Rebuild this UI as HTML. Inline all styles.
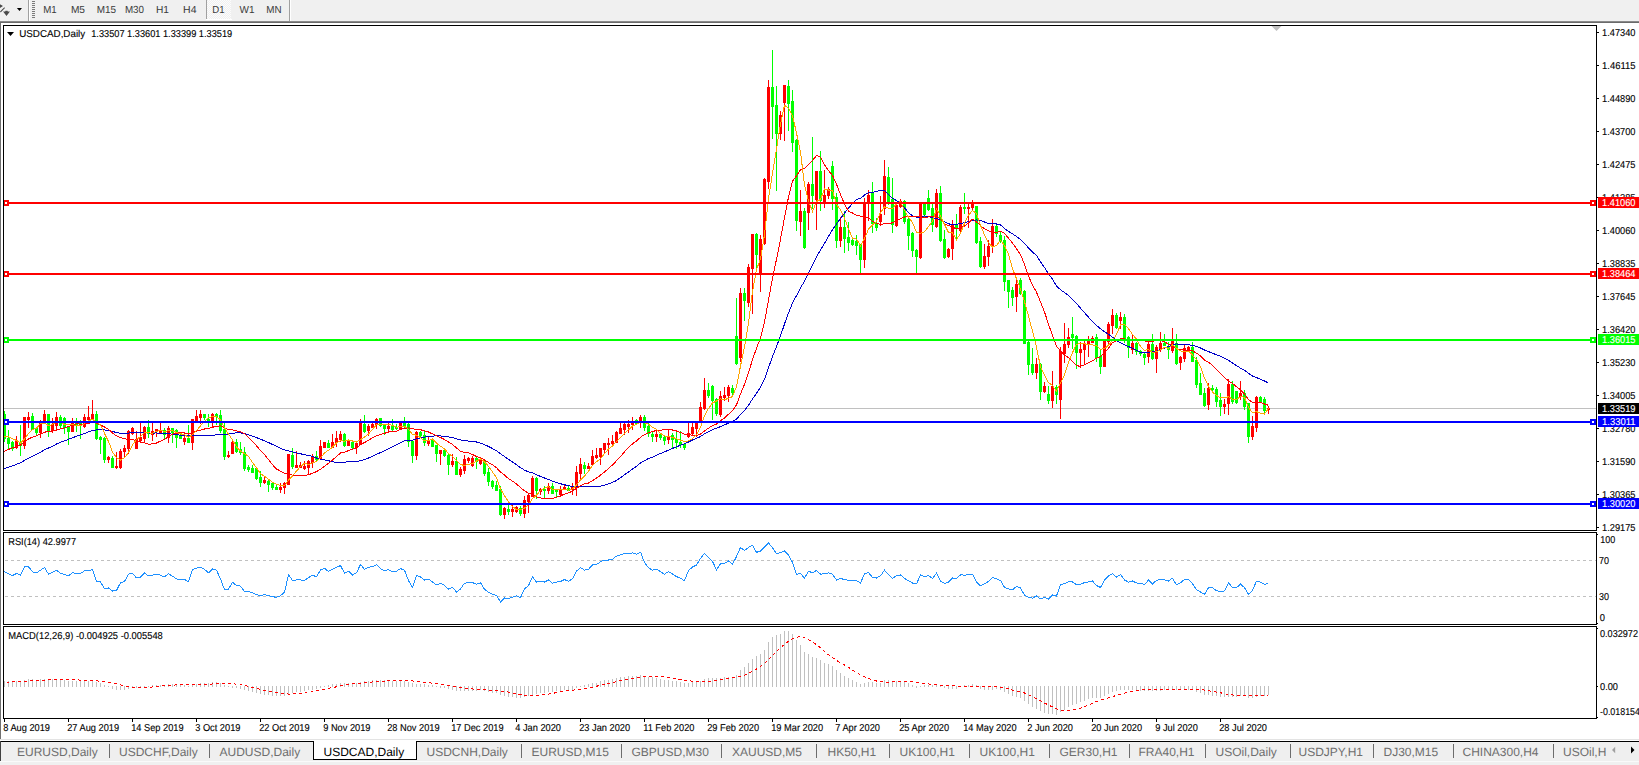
<!DOCTYPE html>
<html><head><meta charset="utf-8"><style>
html,body{margin:0;padding:0;background:#fff;}
body{width:1639px;height:765px;overflow:hidden;}
svg text{font-family:"Liberation Sans",sans-serif;text-rendering:geometricPrecision;}
</style></head><body>
<svg width="1639" height="765" viewBox="0 0 1639 765" style="display:block">
<rect x="0" y="0" width="1639" height="765" fill="#ffffff" />
<rect x="0" y="0" width="1639" height="21" fill="#f0f0f0" />
<rect x="0" y="21" width="1639" height="1" fill="#8a8a8a" />
<rect x="0" y="22" width="1639" height="1" fill="#6a6a6a" />
<rect x="0" y="23" width="1" height="717" fill="#707070" />
<g fill="#4a4a4a" stroke="#ffffff" stroke-width="0.6" paint-order="stroke"><path d="M-1 3.5 L3 6 L-1 8.5 Z"/><path d="M0 11.6 L4.3 7.2 L5 8 L0.7 12.6 Z"/><path d="M3 11.6 L5.3 11.6 L5.3 10.8 L7.7 10.8 L7.7 11.6 L10 11.6 L6.5 16 Z"/></g>
<path d="M16.9 8 L22 8 L19.45 11 Z" fill="#000"/>
<rect x="28" y="0" width="1" height="21" fill="#a0a0a0" />
<rect x="29" y="0" width="1" height="21" fill="#ffffff" />
<rect x="32" y="1" width="3" height="1" fill="#7a7a7a" />
<rect x="32" y="3" width="3" height="1" fill="#7a7a7a" />
<rect x="32" y="5" width="3" height="1" fill="#7a7a7a" />
<rect x="32" y="7" width="3" height="1" fill="#7a7a7a" />
<rect x="32" y="9" width="3" height="1" fill="#7a7a7a" />
<rect x="32" y="11" width="3" height="1" fill="#7a7a7a" />
<rect x="32" y="13" width="3" height="1" fill="#7a7a7a" />
<rect x="32" y="15" width="3" height="1" fill="#7a7a7a" />
<rect x="32" y="17" width="3" height="1" fill="#7a7a7a" />
<defs><pattern id="dith" width="2" height="2" patternUnits="userSpaceOnUse"><rect width="2" height="2" fill="#f0f0f0"/><rect width="1" height="1" fill="#fcfcfc"/><rect x="1" y="1" width="1" height="1" fill="#fcfcfc"/></pattern></defs>
<rect x="206" y="0" width="25" height="19" fill="url(#dith)" />
<rect x="206" y="0" width="1" height="19" fill="#a0a0a0" />
<rect x="206" y="19" width="26" height="1" fill="#ffffff" />
<rect x="289" y="0" width="1" height="21" fill="#a0a0a0" />
<rect x="290" y="0" width="1" height="21" fill="#ffffff" />
<text x="43.2" y="13.2" font-size="10.3" fill="#3a3a3a" textLength="13.50" lengthAdjust="spacingAndGlyphs" >M1</text>
<text x="70.9" y="13.2" font-size="10.3" fill="#3a3a3a" textLength="14.10" lengthAdjust="spacingAndGlyphs" >M5</text>
<text x="96.7" y="13.2" font-size="10.3" fill="#3a3a3a" textLength="19.30" lengthAdjust="spacingAndGlyphs" >M15</text>
<text x="124.9" y="13.2" font-size="10.3" fill="#3a3a3a" textLength="19.10" lengthAdjust="spacingAndGlyphs" >M30</text>
<text x="156.0" y="13.2" font-size="10.3" fill="#3a3a3a" textLength="13.00" lengthAdjust="spacingAndGlyphs" >H1</text>
<text x="183.1" y="13.2" font-size="10.3" fill="#3a3a3a" textLength="13.40" lengthAdjust="spacingAndGlyphs" >H4</text>
<text x="212.3" y="13.2" font-size="10.3" fill="#3a3a3a" textLength="12.30" lengthAdjust="spacingAndGlyphs" >D1</text>
<text x="239.5" y="13.2" font-size="10.3" fill="#3a3a3a" textLength="15.00" lengthAdjust="spacingAndGlyphs" >W1</text>
<text x="266.3" y="13.2" font-size="10.3" fill="#3a3a3a" textLength="15.30" lengthAdjust="spacingAndGlyphs" >MN</text>
<svg x="4" y="26" width="1592" height="504" overflow="hidden"><g transform="translate(-4,-26)" shape-rendering="crispEdges">
<rect x="4" y="408" width="1592" height="1" fill="#c0c0c0" />
<rect x="4" y="411" width="1" height="31" fill="#00ff00" />
<rect x="3" y="414" width="3" height="25" fill="#00ff00" />
<rect x="8" y="430" width="1" height="20" fill="#00ff00" />
<rect x="7" y="438" width="3" height="6" fill="#00ff00" />
<rect x="12" y="441" width="1" height="10" fill="#00ff00" />
<rect x="11" y="442" width="3" height="7" fill="#00ff00" />
<rect x="16" y="436" width="1" height="13" fill="#ff0000" />
<rect x="15" y="441" width="3" height="7" fill="#ff0000" />
<rect x="20" y="425" width="1" height="31" fill="#00ff00" />
<rect x="19" y="442" width="3" height="4" fill="#00ff00" />
<rect x="24" y="417" width="1" height="32" fill="#ff0000" />
<rect x="23" y="417" width="3" height="29" fill="#ff0000" />
<rect x="28" y="412" width="1" height="16" fill="#ff0000" />
<rect x="27" y="417" width="3" height="3" fill="#ff0000" />
<rect x="32" y="413" width="1" height="17" fill="#00ff00" />
<rect x="31" y="416" width="3" height="14" fill="#00ff00" />
<rect x="36" y="427" width="1" height="8" fill="#00ff00" />
<rect x="35" y="428" width="3" height="5" fill="#00ff00" />
<rect x="40" y="420" width="1" height="18" fill="#ff0000" />
<rect x="39" y="423" width="3" height="10" fill="#ff0000" />
<rect x="44" y="410" width="1" height="12" fill="#ff0000" />
<rect x="43" y="414" width="3" height="8" fill="#ff0000" />
<rect x="48" y="414" width="1" height="23" fill="#00ff00" />
<rect x="47" y="414" width="3" height="17" fill="#00ff00" />
<rect x="52" y="418" width="1" height="15" fill="#ff0000" />
<rect x="51" y="424" width="3" height="7" fill="#ff0000" />
<rect x="56" y="412" width="1" height="19" fill="#ff0000" />
<rect x="55" y="417" width="3" height="9" fill="#ff0000" />
<rect x="60" y="415" width="1" height="13" fill="#00ff00" />
<rect x="59" y="417" width="3" height="9" fill="#00ff00" />
<rect x="64" y="417" width="1" height="17" fill="#00ff00" />
<rect x="63" y="418" width="3" height="10" fill="#00ff00" />
<rect x="68" y="426" width="1" height="19" fill="#00ff00" />
<rect x="67" y="426" width="3" height="6" fill="#00ff00" />
<rect x="72" y="418" width="1" height="14" fill="#ff0000" />
<rect x="71" y="422" width="3" height="10" fill="#ff0000" />
<rect x="76" y="418" width="1" height="14" fill="#00ff00" />
<rect x="75" y="423" width="3" height="2" fill="#00ff00" />
<rect x="80" y="420" width="1" height="19" fill="#00ff00" />
<rect x="79" y="423" width="3" height="2" fill="#00ff00" />
<rect x="84" y="414" width="1" height="14" fill="#ff0000" />
<rect x="83" y="417" width="3" height="10" fill="#ff0000" />
<rect x="88" y="406" width="1" height="14" fill="#ff0000" />
<rect x="87" y="417" width="3" height="3" fill="#ff0000" />
<rect x="92" y="400" width="1" height="19" fill="#ff0000" />
<rect x="91" y="414" width="3" height="5" fill="#ff0000" />
<rect x="96" y="411" width="1" height="29" fill="#00ff00" />
<rect x="95" y="414" width="3" height="25" fill="#00ff00" />
<rect x="100" y="436" width="1" height="18" fill="#00ff00" />
<rect x="99" y="437" width="3" height="3" fill="#00ff00" />
<rect x="104" y="437" width="1" height="26" fill="#00ff00" />
<rect x="103" y="438" width="3" height="22" fill="#00ff00" />
<rect x="108" y="456" width="1" height="7" fill="#ff0000" />
<rect x="107" y="457" width="3" height="3" fill="#ff0000" />
<rect x="112" y="456" width="1" height="12" fill="#00ff00" />
<rect x="111" y="458" width="3" height="10" fill="#00ff00" />
<rect x="116" y="452" width="1" height="17" fill="#ff0000" />
<rect x="115" y="466" width="3" height="2" fill="#ff0000" />
<rect x="120" y="449" width="1" height="20" fill="#ff0000" />
<rect x="119" y="451" width="3" height="17" fill="#ff0000" />
<rect x="124" y="445" width="1" height="13" fill="#ff0000" />
<rect x="123" y="448" width="3" height="4" fill="#ff0000" />
<rect x="128" y="430" width="1" height="24" fill="#ff0000" />
<rect x="127" y="431" width="3" height="18" fill="#ff0000" />
<rect x="132" y="427" width="1" height="8" fill="#ff0000" />
<rect x="131" y="428" width="3" height="6" fill="#ff0000" />
<rect x="136" y="431" width="1" height="18" fill="#ff0000" />
<rect x="135" y="439" width="3" height="10" fill="#ff0000" />
<rect x="140" y="423" width="1" height="20" fill="#ff0000" />
<rect x="139" y="437" width="3" height="4" fill="#ff0000" />
<rect x="144" y="426" width="1" height="17" fill="#ff0000" />
<rect x="143" y="427" width="3" height="12" fill="#ff0000" />
<rect x="148" y="420" width="1" height="18" fill="#00ff00" />
<rect x="147" y="427" width="3" height="7" fill="#00ff00" />
<rect x="152" y="423" width="1" height="18" fill="#ff0000" />
<rect x="151" y="431" width="3" height="4" fill="#ff0000" />
<rect x="156" y="429" width="1" height="8" fill="#ff0000" />
<rect x="155" y="429" width="3" height="3" fill="#ff0000" />
<rect x="160" y="423" width="1" height="11" fill="#ff0000" />
<rect x="159" y="431" width="3" height="2" fill="#ff0000" />
<rect x="164" y="428" width="1" height="11" fill="#00ff00" />
<rect x="163" y="430" width="3" height="5" fill="#00ff00" />
<rect x="168" y="426" width="1" height="17" fill="#ff0000" />
<rect x="167" y="428" width="3" height="10" fill="#ff0000" />
<rect x="172" y="428" width="1" height="15" fill="#00ff00" />
<rect x="171" y="428" width="3" height="5" fill="#00ff00" />
<rect x="176" y="429" width="1" height="19" fill="#00ff00" />
<rect x="175" y="430" width="3" height="8" fill="#00ff00" />
<rect x="180" y="433" width="1" height="6" fill="#00ff00" />
<rect x="179" y="436" width="3" height="3" fill="#00ff00" />
<rect x="184" y="436" width="1" height="9" fill="#ff0000" />
<rect x="183" y="438" width="3" height="4" fill="#ff0000" />
<rect x="188" y="425" width="1" height="18" fill="#00ff00" />
<rect x="187" y="438" width="3" height="5" fill="#00ff00" />
<rect x="192" y="419" width="1" height="31" fill="#ff0000" />
<rect x="191" y="419" width="3" height="24" fill="#ff0000" />
<rect x="196" y="410" width="1" height="12" fill="#ff0000" />
<rect x="195" y="416" width="3" height="5" fill="#ff0000" />
<rect x="200" y="410" width="1" height="14" fill="#ff0000" />
<rect x="199" y="414" width="3" height="4" fill="#ff0000" />
<rect x="204" y="414" width="1" height="6" fill="#00ff00" />
<rect x="203" y="414" width="3" height="4" fill="#00ff00" />
<rect x="208" y="414" width="1" height="13" fill="#00ff00" />
<rect x="207" y="419" width="3" height="4" fill="#00ff00" />
<rect x="212" y="413" width="1" height="15" fill="#ff0000" />
<rect x="211" y="414" width="3" height="8" fill="#ff0000" />
<rect x="216" y="413" width="1" height="12" fill="#00ff00" />
<rect x="215" y="414" width="3" height="3" fill="#00ff00" />
<rect x="220" y="410" width="1" height="23" fill="#00ff00" />
<rect x="219" y="415" width="3" height="16" fill="#00ff00" />
<rect x="224" y="423" width="1" height="37" fill="#00ff00" />
<rect x="223" y="429" width="3" height="28" fill="#00ff00" />
<rect x="228" y="451" width="1" height="7" fill="#ff0000" />
<rect x="227" y="455" width="3" height="2" fill="#ff0000" />
<rect x="232" y="441" width="1" height="13" fill="#ff0000" />
<rect x="231" y="442" width="3" height="12" fill="#ff0000" />
<rect x="236" y="439" width="1" height="14" fill="#00ff00" />
<rect x="235" y="442" width="3" height="10" fill="#00ff00" />
<rect x="240" y="442" width="1" height="13" fill="#00ff00" />
<rect x="239" y="449" width="3" height="4" fill="#00ff00" />
<rect x="244" y="447" width="1" height="24" fill="#00ff00" />
<rect x="243" y="452" width="3" height="17" fill="#00ff00" />
<rect x="248" y="465" width="1" height="7" fill="#00ff00" />
<rect x="247" y="467" width="3" height="3" fill="#00ff00" />
<rect x="252" y="465" width="1" height="8" fill="#00ff00" />
<rect x="251" y="468" width="3" height="5" fill="#00ff00" />
<rect x="256" y="467" width="1" height="13" fill="#00ff00" />
<rect x="255" y="468" width="3" height="11" fill="#00ff00" />
<rect x="260" y="471" width="1" height="16" fill="#00ff00" />
<rect x="259" y="477" width="3" height="6" fill="#00ff00" />
<rect x="264" y="476" width="1" height="8" fill="#ff0000" />
<rect x="263" y="480" width="3" height="3" fill="#ff0000" />
<rect x="268" y="479" width="1" height="13" fill="#00ff00" />
<rect x="267" y="481" width="3" height="4" fill="#00ff00" />
<rect x="272" y="482" width="1" height="8" fill="#00ff00" />
<rect x="271" y="483" width="3" height="5" fill="#00ff00" />
<rect x="276" y="485" width="1" height="5" fill="#00ff00" />
<rect x="275" y="487" width="3" height="3" fill="#00ff00" />
<rect x="280" y="483" width="1" height="10" fill="#ff0000" />
<rect x="279" y="487" width="3" height="3" fill="#ff0000" />
<rect x="284" y="482" width="1" height="12" fill="#ff0000" />
<rect x="283" y="483" width="3" height="5" fill="#ff0000" />
<rect x="288" y="454" width="1" height="31" fill="#ff0000" />
<rect x="287" y="454" width="3" height="31" fill="#ff0000" />
<rect x="292" y="448" width="1" height="21" fill="#00ff00" />
<rect x="291" y="455" width="3" height="12" fill="#00ff00" />
<rect x="296" y="451" width="1" height="17" fill="#ff0000" />
<rect x="295" y="465" width="3" height="3" fill="#ff0000" />
<rect x="300" y="462" width="1" height="6" fill="#ff0000" />
<rect x="299" y="465" width="3" height="3" fill="#ff0000" />
<rect x="304" y="461" width="1" height="9" fill="#ff0000" />
<rect x="303" y="466" width="3" height="3" fill="#ff0000" />
<rect x="308" y="460" width="1" height="14" fill="#ff0000" />
<rect x="307" y="461" width="3" height="7" fill="#ff0000" />
<rect x="312" y="454" width="1" height="14" fill="#ff0000" />
<rect x="311" y="457" width="3" height="6" fill="#ff0000" />
<rect x="316" y="451" width="1" height="10" fill="#00ff00" />
<rect x="315" y="456" width="3" height="4" fill="#00ff00" />
<rect x="320" y="440" width="1" height="19" fill="#ff0000" />
<rect x="319" y="446" width="3" height="13" fill="#ff0000" />
<rect x="324" y="442" width="1" height="6" fill="#ff0000" />
<rect x="323" y="442" width="3" height="6" fill="#ff0000" />
<rect x="328" y="440" width="1" height="8" fill="#00ff00" />
<rect x="327" y="443" width="3" height="5" fill="#00ff00" />
<rect x="332" y="434" width="1" height="14" fill="#ff0000" />
<rect x="331" y="442" width="3" height="6" fill="#ff0000" />
<rect x="336" y="431" width="1" height="16" fill="#ff0000" />
<rect x="335" y="438" width="3" height="5" fill="#ff0000" />
<rect x="340" y="431" width="1" height="11" fill="#ff0000" />
<rect x="339" y="434" width="3" height="6" fill="#ff0000" />
<rect x="344" y="433" width="1" height="14" fill="#00ff00" />
<rect x="343" y="434" width="3" height="12" fill="#00ff00" />
<rect x="348" y="441" width="1" height="5" fill="#ff0000" />
<rect x="347" y="441" width="3" height="5" fill="#ff0000" />
<rect x="352" y="440" width="1" height="9" fill="#00ff00" />
<rect x="351" y="442" width="3" height="6" fill="#00ff00" />
<rect x="356" y="442" width="1" height="12" fill="#ff0000" />
<rect x="355" y="443" width="3" height="5" fill="#ff0000" />
<rect x="360" y="419" width="1" height="26" fill="#ff0000" />
<rect x="359" y="423" width="3" height="22" fill="#ff0000" />
<rect x="364" y="415" width="1" height="18" fill="#00ff00" />
<rect x="363" y="424" width="3" height="8" fill="#00ff00" />
<rect x="368" y="424" width="1" height="12" fill="#ff0000" />
<rect x="367" y="426" width="3" height="5" fill="#ff0000" />
<rect x="372" y="423" width="1" height="5" fill="#ff0000" />
<rect x="371" y="424" width="3" height="4" fill="#ff0000" />
<rect x="376" y="418" width="1" height="11" fill="#ff0000" />
<rect x="375" y="419" width="3" height="6" fill="#ff0000" />
<rect x="380" y="418" width="1" height="9" fill="#00ff00" />
<rect x="379" y="418" width="3" height="8" fill="#00ff00" />
<rect x="384" y="424" width="1" height="11" fill="#00ff00" />
<rect x="383" y="424" width="3" height="5" fill="#00ff00" />
<rect x="388" y="423" width="1" height="9" fill="#ff0000" />
<rect x="387" y="426" width="3" height="3" fill="#ff0000" />
<rect x="392" y="419" width="1" height="12" fill="#00ff00" />
<rect x="391" y="425" width="3" height="5" fill="#00ff00" />
<rect x="396" y="424" width="1" height="6" fill="#00ff00" />
<rect x="395" y="427" width="3" height="2" fill="#00ff00" />
<rect x="400" y="422" width="1" height="8" fill="#ff0000" />
<rect x="399" y="423" width="3" height="7" fill="#ff0000" />
<rect x="404" y="417" width="1" height="12" fill="#00ff00" />
<rect x="403" y="422" width="3" height="4" fill="#00ff00" />
<rect x="408" y="423" width="1" height="24" fill="#00ff00" />
<rect x="407" y="424" width="3" height="18" fill="#00ff00" />
<rect x="412" y="441" width="1" height="22" fill="#00ff00" />
<rect x="411" y="441" width="3" height="15" fill="#00ff00" />
<rect x="416" y="431" width="1" height="29" fill="#ff0000" />
<rect x="415" y="432" width="3" height="24" fill="#ff0000" />
<rect x="420" y="431" width="1" height="6" fill="#00ff00" />
<rect x="419" y="432" width="3" height="4" fill="#00ff00" />
<rect x="424" y="431" width="1" height="15" fill="#00ff00" />
<rect x="423" y="435" width="3" height="8" fill="#00ff00" />
<rect x="428" y="437" width="1" height="9" fill="#ff0000" />
<rect x="427" y="440" width="3" height="4" fill="#ff0000" />
<rect x="432" y="439" width="1" height="8" fill="#00ff00" />
<rect x="431" y="440" width="3" height="7" fill="#00ff00" />
<rect x="436" y="445" width="1" height="17" fill="#00ff00" />
<rect x="435" y="445" width="3" height="9" fill="#00ff00" />
<rect x="440" y="450" width="1" height="15" fill="#ff0000" />
<rect x="439" y="450" width="3" height="4" fill="#ff0000" />
<rect x="444" y="450" width="1" height="7" fill="#00ff00" />
<rect x="443" y="450" width="3" height="6" fill="#00ff00" />
<rect x="448" y="454" width="1" height="21" fill="#00ff00" />
<rect x="447" y="455" width="3" height="10" fill="#00ff00" />
<rect x="452" y="454" width="1" height="13" fill="#ff0000" />
<rect x="451" y="461" width="3" height="4" fill="#ff0000" />
<rect x="456" y="457" width="1" height="18" fill="#00ff00" />
<rect x="455" y="461" width="3" height="14" fill="#00ff00" />
<rect x="460" y="467" width="1" height="10" fill="#ff0000" />
<rect x="459" y="469" width="3" height="6" fill="#ff0000" />
<rect x="464" y="455" width="1" height="19" fill="#ff0000" />
<rect x="463" y="459" width="3" height="12" fill="#ff0000" />
<rect x="468" y="457" width="1" height="6" fill="#ff0000" />
<rect x="467" y="458" width="3" height="3" fill="#ff0000" />
<rect x="472" y="456" width="1" height="11" fill="#ff0000" />
<rect x="471" y="458" width="3" height="8" fill="#ff0000" />
<rect x="476" y="457" width="1" height="12" fill="#00ff00" />
<rect x="475" y="458" width="3" height="4" fill="#00ff00" />
<rect x="480" y="459" width="1" height="6" fill="#ff0000" />
<rect x="479" y="459" width="3" height="5" fill="#ff0000" />
<rect x="484" y="460" width="1" height="16" fill="#00ff00" />
<rect x="483" y="461" width="3" height="13" fill="#00ff00" />
<rect x="488" y="468" width="1" height="18" fill="#00ff00" />
<rect x="487" y="472" width="3" height="10" fill="#00ff00" />
<rect x="492" y="480" width="1" height="9" fill="#00ff00" />
<rect x="491" y="481" width="3" height="6" fill="#00ff00" />
<rect x="496" y="481" width="1" height="10" fill="#00ff00" />
<rect x="495" y="485" width="3" height="6" fill="#00ff00" />
<rect x="500" y="486" width="1" height="30" fill="#00ff00" />
<rect x="499" y="489" width="3" height="26" fill="#00ff00" />
<rect x="504" y="507" width="1" height="12" fill="#ff0000" />
<rect x="503" y="508" width="3" height="7" fill="#ff0000" />
<rect x="508" y="503" width="1" height="12" fill="#00ff00" />
<rect x="507" y="509" width="3" height="3" fill="#00ff00" />
<rect x="512" y="505" width="1" height="12" fill="#ff0000" />
<rect x="511" y="509" width="3" height="3" fill="#ff0000" />
<rect x="516" y="506" width="1" height="7" fill="#ff0000" />
<rect x="515" y="507" width="3" height="5" fill="#ff0000" />
<rect x="520" y="506" width="1" height="10" fill="#00ff00" />
<rect x="519" y="508" width="3" height="6" fill="#00ff00" />
<rect x="524" y="496" width="1" height="22" fill="#ff0000" />
<rect x="523" y="500" width="3" height="14" fill="#ff0000" />
<rect x="528" y="493" width="1" height="20" fill="#ff0000" />
<rect x="527" y="495" width="3" height="7" fill="#ff0000" />
<rect x="532" y="476" width="1" height="21" fill="#ff0000" />
<rect x="531" y="478" width="3" height="19" fill="#ff0000" />
<rect x="536" y="477" width="1" height="22" fill="#00ff00" />
<rect x="535" y="478" width="3" height="13" fill="#00ff00" />
<rect x="540" y="488" width="1" height="7" fill="#ff0000" />
<rect x="539" y="489" width="3" height="3" fill="#ff0000" />
<rect x="544" y="486" width="1" height="12" fill="#00ff00" />
<rect x="543" y="489" width="3" height="2" fill="#00ff00" />
<rect x="548" y="483" width="1" height="11" fill="#ff0000" />
<rect x="547" y="486" width="3" height="5" fill="#ff0000" />
<rect x="552" y="483" width="1" height="11" fill="#00ff00" />
<rect x="551" y="486" width="3" height="8" fill="#00ff00" />
<rect x="556" y="489" width="1" height="9" fill="#00ff00" />
<rect x="555" y="489" width="3" height="3" fill="#00ff00" />
<rect x="560" y="486" width="1" height="11" fill="#ff0000" />
<rect x="559" y="490" width="3" height="5" fill="#ff0000" />
<rect x="564" y="484" width="1" height="6" fill="#ff0000" />
<rect x="563" y="487" width="3" height="3" fill="#ff0000" />
<rect x="568" y="486" width="1" height="5" fill="#00ff00" />
<rect x="567" y="488" width="3" height="3" fill="#00ff00" />
<rect x="572" y="483" width="1" height="12" fill="#ff0000" />
<rect x="571" y="486" width="3" height="4" fill="#ff0000" />
<rect x="576" y="466" width="1" height="30" fill="#ff0000" />
<rect x="575" y="472" width="3" height="16" fill="#ff0000" />
<rect x="580" y="458" width="1" height="21" fill="#ff0000" />
<rect x="579" y="464" width="3" height="10" fill="#ff0000" />
<rect x="584" y="462" width="1" height="12" fill="#00ff00" />
<rect x="583" y="465" width="3" height="4" fill="#00ff00" />
<rect x="588" y="463" width="1" height="6" fill="#ff0000" />
<rect x="587" y="466" width="3" height="3" fill="#ff0000" />
<rect x="592" y="450" width="1" height="16" fill="#ff0000" />
<rect x="591" y="456" width="3" height="9" fill="#ff0000" />
<rect x="596" y="448" width="1" height="11" fill="#ff0000" />
<rect x="595" y="455" width="3" height="3" fill="#ff0000" />
<rect x="600" y="448" width="1" height="17" fill="#ff0000" />
<rect x="599" y="448" width="3" height="9" fill="#ff0000" />
<rect x="604" y="443" width="1" height="11" fill="#ff0000" />
<rect x="603" y="443" width="3" height="7" fill="#ff0000" />
<rect x="608" y="438" width="1" height="17" fill="#ff0000" />
<rect x="607" y="443" width="3" height="2" fill="#ff0000" />
<rect x="612" y="435" width="1" height="12" fill="#ff0000" />
<rect x="611" y="441" width="3" height="3" fill="#ff0000" />
<rect x="616" y="431" width="1" height="12" fill="#ff0000" />
<rect x="615" y="432" width="3" height="11" fill="#ff0000" />
<rect x="620" y="423" width="1" height="11" fill="#ff0000" />
<rect x="619" y="428" width="3" height="6" fill="#ff0000" />
<rect x="624" y="423" width="1" height="12" fill="#ff0000" />
<rect x="623" y="424" width="3" height="6" fill="#ff0000" />
<rect x="628" y="420" width="1" height="13" fill="#ff0000" />
<rect x="627" y="424" width="3" height="3" fill="#ff0000" />
<rect x="632" y="417" width="1" height="13" fill="#ff0000" />
<rect x="631" y="422" width="3" height="3" fill="#ff0000" />
<rect x="636" y="419" width="1" height="6" fill="#00ff00" />
<rect x="635" y="420" width="3" height="4" fill="#00ff00" />
<rect x="640" y="415" width="1" height="13" fill="#ff0000" />
<rect x="639" y="417" width="3" height="6" fill="#ff0000" />
<rect x="644" y="415" width="1" height="16" fill="#00ff00" />
<rect x="643" y="417" width="3" height="11" fill="#00ff00" />
<rect x="648" y="423" width="1" height="14" fill="#00ff00" />
<rect x="647" y="426" width="3" height="8" fill="#00ff00" />
<rect x="652" y="432" width="1" height="10" fill="#00ff00" />
<rect x="651" y="434" width="3" height="3" fill="#00ff00" />
<rect x="656" y="430" width="1" height="12" fill="#ff0000" />
<rect x="655" y="434" width="3" height="3" fill="#ff0000" />
<rect x="660" y="433" width="1" height="7" fill="#00ff00" />
<rect x="659" y="434" width="3" height="4" fill="#00ff00" />
<rect x="664" y="436" width="1" height="9" fill="#00ff00" />
<rect x="663" y="437" width="3" height="4" fill="#00ff00" />
<rect x="668" y="429" width="1" height="15" fill="#ff0000" />
<rect x="667" y="436" width="3" height="4" fill="#ff0000" />
<rect x="672" y="433" width="1" height="15" fill="#00ff00" />
<rect x="671" y="435" width="3" height="5" fill="#00ff00" />
<rect x="676" y="432" width="1" height="17" fill="#00ff00" />
<rect x="675" y="439" width="3" height="4" fill="#00ff00" />
<rect x="680" y="431" width="1" height="17" fill="#00ff00" />
<rect x="679" y="442" width="3" height="3" fill="#00ff00" />
<rect x="684" y="443" width="1" height="7" fill="#00ff00" />
<rect x="683" y="444" width="3" height="4" fill="#00ff00" />
<rect x="688" y="423" width="1" height="15" fill="#ff0000" />
<rect x="687" y="433" width="3" height="4" fill="#ff0000" />
<rect x="692" y="423" width="1" height="12" fill="#ff0000" />
<rect x="691" y="427" width="3" height="7" fill="#ff0000" />
<rect x="696" y="423" width="1" height="14" fill="#ff0000" />
<rect x="695" y="423" width="3" height="6" fill="#ff0000" />
<rect x="700" y="402" width="1" height="20" fill="#ff0000" />
<rect x="699" y="407" width="3" height="15" fill="#ff0000" />
<rect x="704" y="378" width="1" height="32" fill="#ff0000" />
<rect x="703" y="390" width="3" height="19" fill="#ff0000" />
<rect x="708" y="383" width="1" height="15" fill="#00ff00" />
<rect x="707" y="390" width="3" height="6" fill="#00ff00" />
<rect x="712" y="385" width="1" height="35" fill="#00ff00" />
<rect x="711" y="386" width="3" height="15" fill="#00ff00" />
<rect x="716" y="398" width="1" height="18" fill="#00ff00" />
<rect x="715" y="399" width="3" height="15" fill="#00ff00" />
<rect x="720" y="391" width="1" height="26" fill="#ff0000" />
<rect x="719" y="396" width="3" height="19" fill="#ff0000" />
<rect x="724" y="387" width="1" height="14" fill="#ff0000" />
<rect x="723" y="395" width="3" height="3" fill="#ff0000" />
<rect x="728" y="385" width="1" height="17" fill="#ff0000" />
<rect x="727" y="387" width="3" height="9" fill="#ff0000" />
<rect x="732" y="385" width="1" height="10" fill="#00ff00" />
<rect x="731" y="388" width="3" height="5" fill="#00ff00" />
<rect x="736" y="298" width="1" height="67" fill="#00ff00" />
<rect x="735" y="336" width="3" height="28" fill="#00ff00" />
<rect x="740" y="288" width="1" height="74" fill="#ff0000" />
<rect x="739" y="293" width="3" height="65" fill="#ff0000" />
<rect x="744" y="288" width="1" height="33" fill="#00ff00" />
<rect x="743" y="293" width="3" height="8" fill="#00ff00" />
<rect x="748" y="264" width="1" height="43" fill="#ff0000" />
<rect x="747" y="267" width="3" height="36" fill="#ff0000" />
<rect x="752" y="234" width="1" height="80" fill="#ff0000" />
<rect x="751" y="234" width="3" height="35" fill="#ff0000" />
<rect x="756" y="233" width="1" height="35" fill="#00ff00" />
<rect x="755" y="234" width="3" height="21" fill="#00ff00" />
<rect x="760" y="235" width="1" height="57" fill="#ff0000" />
<rect x="759" y="239" width="3" height="36" fill="#ff0000" />
<rect x="764" y="178" width="1" height="67" fill="#ff0000" />
<rect x="763" y="179" width="3" height="65" fill="#ff0000" />
<rect x="768" y="80" width="1" height="109" fill="#ff0000" />
<rect x="767" y="87" width="3" height="95" fill="#ff0000" />
<rect x="772" y="50" width="1" height="89" fill="#00ff00" />
<rect x="771" y="87" width="3" height="20" fill="#00ff00" />
<rect x="776" y="86" width="1" height="105" fill="#00ff00" />
<rect x="775" y="105" width="3" height="29" fill="#00ff00" />
<rect x="780" y="111" width="1" height="29" fill="#ff0000" />
<rect x="779" y="115" width="3" height="19" fill="#ff0000" />
<rect x="784" y="85" width="1" height="56" fill="#ff0000" />
<rect x="783" y="85" width="3" height="18" fill="#ff0000" />
<rect x="788" y="80" width="1" height="51" fill="#00ff00" />
<rect x="787" y="86" width="3" height="18" fill="#00ff00" />
<rect x="792" y="90" width="1" height="62" fill="#00ff00" />
<rect x="791" y="101" width="3" height="42" fill="#00ff00" />
<rect x="796" y="139" width="1" height="92" fill="#00ff00" />
<rect x="795" y="140" width="3" height="81" fill="#00ff00" />
<rect x="800" y="190" width="1" height="46" fill="#ff0000" />
<rect x="799" y="211" width="3" height="11" fill="#ff0000" />
<rect x="804" y="208" width="1" height="41" fill="#00ff00" />
<rect x="803" y="211" width="3" height="37" fill="#00ff00" />
<rect x="808" y="182" width="1" height="48" fill="#ff0000" />
<rect x="807" y="184" width="3" height="29" fill="#ff0000" />
<rect x="812" y="137" width="1" height="72" fill="#00ff00" />
<rect x="811" y="184" width="3" height="12" fill="#00ff00" />
<rect x="816" y="171" width="1" height="59" fill="#ff0000" />
<rect x="815" y="171" width="3" height="29" fill="#ff0000" />
<rect x="820" y="151" width="1" height="60" fill="#00ff00" />
<rect x="819" y="171" width="3" height="30" fill="#00ff00" />
<rect x="824" y="170" width="1" height="38" fill="#ff0000" />
<rect x="823" y="195" width="3" height="8" fill="#ff0000" />
<rect x="828" y="187" width="1" height="12" fill="#ff0000" />
<rect x="827" y="189" width="3" height="7" fill="#ff0000" />
<rect x="832" y="161" width="1" height="49" fill="#00ff00" />
<rect x="831" y="166" width="3" height="33" fill="#00ff00" />
<rect x="836" y="193" width="1" height="55" fill="#00ff00" />
<rect x="835" y="197" width="3" height="44" fill="#00ff00" />
<rect x="840" y="217" width="1" height="30" fill="#ff0000" />
<rect x="839" y="227" width="3" height="14" fill="#ff0000" />
<rect x="844" y="211" width="1" height="42" fill="#00ff00" />
<rect x="843" y="227" width="3" height="12" fill="#00ff00" />
<rect x="848" y="222" width="1" height="29" fill="#00ff00" />
<rect x="847" y="237" width="3" height="6" fill="#00ff00" />
<rect x="852" y="238" width="1" height="8" fill="#00ff00" />
<rect x="851" y="240" width="3" height="5" fill="#00ff00" />
<rect x="856" y="235" width="1" height="20" fill="#00ff00" />
<rect x="855" y="241" width="3" height="5" fill="#00ff00" />
<rect x="860" y="244" width="1" height="29" fill="#00ff00" />
<rect x="859" y="245" width="3" height="15" fill="#00ff00" />
<rect x="864" y="198" width="1" height="70" fill="#ff0000" />
<rect x="863" y="203" width="3" height="57" fill="#ff0000" />
<rect x="868" y="190" width="1" height="31" fill="#ff0000" />
<rect x="867" y="195" width="3" height="9" fill="#ff0000" />
<rect x="872" y="182" width="1" height="51" fill="#00ff00" />
<rect x="871" y="193" width="3" height="31" fill="#00ff00" />
<rect x="876" y="218" width="1" height="13" fill="#00ff00" />
<rect x="875" y="223" width="3" height="5" fill="#00ff00" />
<rect x="880" y="196" width="1" height="30" fill="#ff0000" />
<rect x="879" y="214" width="3" height="8" fill="#ff0000" />
<rect x="884" y="160" width="1" height="55" fill="#ff0000" />
<rect x="883" y="176" width="3" height="33" fill="#ff0000" />
<rect x="888" y="167" width="1" height="38" fill="#00ff00" />
<rect x="887" y="177" width="3" height="25" fill="#00ff00" />
<rect x="892" y="178" width="1" height="55" fill="#00ff00" />
<rect x="891" y="199" width="3" height="26" fill="#00ff00" />
<rect x="896" y="204" width="1" height="23" fill="#ff0000" />
<rect x="895" y="205" width="3" height="21" fill="#ff0000" />
<rect x="900" y="199" width="1" height="9" fill="#ff0000" />
<rect x="899" y="201" width="3" height="6" fill="#ff0000" />
<rect x="904" y="200" width="1" height="24" fill="#00ff00" />
<rect x="903" y="201" width="3" height="21" fill="#00ff00" />
<rect x="908" y="218" width="1" height="32" fill="#00ff00" />
<rect x="907" y="219" width="3" height="17" fill="#00ff00" />
<rect x="912" y="232" width="1" height="25" fill="#00ff00" />
<rect x="911" y="233" width="3" height="18" fill="#00ff00" />
<rect x="916" y="249" width="1" height="24" fill="#00ff00" />
<rect x="915" y="250" width="3" height="7" fill="#00ff00" />
<rect x="920" y="203" width="1" height="56" fill="#ff0000" />
<rect x="919" y="204" width="3" height="54" fill="#ff0000" />
<rect x="924" y="204" width="1" height="13" fill="#00ff00" />
<rect x="923" y="204" width="3" height="11" fill="#00ff00" />
<rect x="928" y="190" width="1" height="21" fill="#00ff00" />
<rect x="927" y="198" width="3" height="12" fill="#00ff00" />
<rect x="932" y="204" width="1" height="28" fill="#00ff00" />
<rect x="931" y="208" width="3" height="17" fill="#00ff00" />
<rect x="936" y="189" width="1" height="39" fill="#ff0000" />
<rect x="935" y="193" width="3" height="34" fill="#ff0000" />
<rect x="940" y="186" width="1" height="56" fill="#00ff00" />
<rect x="939" y="193" width="3" height="48" fill="#00ff00" />
<rect x="944" y="230" width="1" height="29" fill="#00ff00" />
<rect x="943" y="239" width="3" height="19" fill="#00ff00" />
<rect x="948" y="248" width="1" height="10" fill="#ff0000" />
<rect x="947" y="249" width="3" height="8" fill="#ff0000" />
<rect x="952" y="220" width="1" height="40" fill="#ff0000" />
<rect x="951" y="225" width="3" height="24" fill="#ff0000" />
<rect x="956" y="214" width="1" height="27" fill="#00ff00" />
<rect x="955" y="225" width="3" height="4" fill="#00ff00" />
<rect x="960" y="205" width="1" height="27" fill="#ff0000" />
<rect x="959" y="207" width="3" height="24" fill="#ff0000" />
<rect x="964" y="193" width="1" height="21" fill="#00ff00" />
<rect x="963" y="207" width="3" height="2" fill="#00ff00" />
<rect x="968" y="203" width="1" height="25" fill="#ff0000" />
<rect x="967" y="207" width="3" height="2" fill="#ff0000" />
<rect x="972" y="200" width="1" height="11" fill="#ff0000" />
<rect x="971" y="203" width="3" height="5" fill="#ff0000" />
<rect x="976" y="206" width="1" height="38" fill="#00ff00" />
<rect x="975" y="206" width="3" height="37" fill="#00ff00" />
<rect x="980" y="237" width="1" height="31" fill="#00ff00" />
<rect x="979" y="241" width="3" height="26" fill="#00ff00" />
<rect x="984" y="244" width="1" height="25" fill="#ff0000" />
<rect x="983" y="256" width="3" height="11" fill="#ff0000" />
<rect x="988" y="240" width="1" height="26" fill="#ff0000" />
<rect x="987" y="246" width="3" height="11" fill="#ff0000" />
<rect x="992" y="219" width="1" height="34" fill="#ff0000" />
<rect x="991" y="226" width="3" height="21" fill="#ff0000" />
<rect x="996" y="224" width="1" height="13" fill="#00ff00" />
<rect x="995" y="226" width="3" height="8" fill="#00ff00" />
<rect x="1000" y="231" width="1" height="12" fill="#00ff00" />
<rect x="999" y="235" width="3" height="7" fill="#00ff00" />
<rect x="1004" y="236" width="1" height="55" fill="#00ff00" />
<rect x="1003" y="240" width="3" height="42" fill="#00ff00" />
<rect x="1008" y="280" width="1" height="28" fill="#00ff00" />
<rect x="1007" y="280" width="3" height="12" fill="#00ff00" />
<rect x="1012" y="287" width="1" height="19" fill="#00ff00" />
<rect x="1011" y="290" width="3" height="8" fill="#00ff00" />
<rect x="1016" y="280" width="1" height="32" fill="#ff0000" />
<rect x="1015" y="284" width="3" height="13" fill="#ff0000" />
<rect x="1020" y="278" width="1" height="17" fill="#00ff00" />
<rect x="1019" y="280" width="3" height="14" fill="#00ff00" />
<rect x="1024" y="290" width="1" height="54" fill="#00ff00" />
<rect x="1023" y="291" width="3" height="53" fill="#00ff00" />
<rect x="1028" y="341" width="1" height="34" fill="#00ff00" />
<rect x="1027" y="342" width="3" height="23" fill="#00ff00" />
<rect x="1032" y="348" width="1" height="27" fill="#00ff00" />
<rect x="1031" y="364" width="3" height="9" fill="#00ff00" />
<rect x="1036" y="358" width="1" height="21" fill="#ff0000" />
<rect x="1035" y="364" width="3" height="9" fill="#ff0000" />
<rect x="1040" y="363" width="1" height="37" fill="#00ff00" />
<rect x="1039" y="364" width="3" height="28" fill="#00ff00" />
<rect x="1044" y="382" width="1" height="11" fill="#ff0000" />
<rect x="1043" y="386" width="3" height="6" fill="#ff0000" />
<rect x="1048" y="386" width="1" height="18" fill="#00ff00" />
<rect x="1047" y="394" width="3" height="7" fill="#00ff00" />
<rect x="1052" y="371" width="1" height="37" fill="#ff0000" />
<rect x="1051" y="386" width="3" height="15" fill="#ff0000" />
<rect x="1056" y="385" width="1" height="19" fill="#00ff00" />
<rect x="1055" y="387" width="3" height="8" fill="#00ff00" />
<rect x="1060" y="347" width="1" height="72" fill="#ff0000" />
<rect x="1059" y="351" width="3" height="49" fill="#ff0000" />
<rect x="1064" y="323" width="1" height="40" fill="#ff0000" />
<rect x="1063" y="344" width="3" height="10" fill="#ff0000" />
<rect x="1068" y="328" width="1" height="20" fill="#ff0000" />
<rect x="1067" y="337" width="3" height="8" fill="#ff0000" />
<rect x="1072" y="317" width="1" height="32" fill="#00ff00" />
<rect x="1071" y="334" width="3" height="4" fill="#00ff00" />
<rect x="1076" y="335" width="1" height="34" fill="#00ff00" />
<rect x="1075" y="336" width="3" height="17" fill="#00ff00" />
<rect x="1080" y="342" width="1" height="26" fill="#ff0000" />
<rect x="1079" y="349" width="3" height="4" fill="#ff0000" />
<rect x="1084" y="341" width="1" height="23" fill="#ff0000" />
<rect x="1083" y="344" width="3" height="6" fill="#ff0000" />
<rect x="1088" y="336" width="1" height="21" fill="#ff0000" />
<rect x="1087" y="341" width="3" height="4" fill="#ff0000" />
<rect x="1092" y="336" width="1" height="7" fill="#ff0000" />
<rect x="1091" y="338" width="3" height="5" fill="#ff0000" />
<rect x="1096" y="334" width="1" height="28" fill="#00ff00" />
<rect x="1095" y="337" width="3" height="21" fill="#00ff00" />
<rect x="1100" y="350" width="1" height="24" fill="#00ff00" />
<rect x="1099" y="356" width="3" height="11" fill="#00ff00" />
<rect x="1104" y="341" width="1" height="26" fill="#ff0000" />
<rect x="1103" y="341" width="3" height="26" fill="#ff0000" />
<rect x="1108" y="322" width="1" height="23" fill="#ff0000" />
<rect x="1107" y="324" width="3" height="18" fill="#ff0000" />
<rect x="1112" y="309" width="1" height="25" fill="#ff0000" />
<rect x="1111" y="315" width="3" height="11" fill="#ff0000" />
<rect x="1116" y="313" width="1" height="16" fill="#00ff00" />
<rect x="1115" y="315" width="3" height="13" fill="#00ff00" />
<rect x="1120" y="312" width="1" height="17" fill="#ff0000" />
<rect x="1119" y="317" width="3" height="4" fill="#ff0000" />
<rect x="1124" y="314" width="1" height="29" fill="#00ff00" />
<rect x="1123" y="317" width="3" height="22" fill="#00ff00" />
<rect x="1128" y="336" width="1" height="22" fill="#00ff00" />
<rect x="1127" y="337" width="3" height="11" fill="#00ff00" />
<rect x="1132" y="335" width="1" height="19" fill="#ff0000" />
<rect x="1131" y="343" width="3" height="7" fill="#ff0000" />
<rect x="1136" y="342" width="1" height="13" fill="#00ff00" />
<rect x="1135" y="343" width="3" height="9" fill="#00ff00" />
<rect x="1140" y="350" width="1" height="6" fill="#00ff00" />
<rect x="1139" y="351" width="3" height="3" fill="#00ff00" />
<rect x="1144" y="352" width="1" height="13" fill="#00ff00" />
<rect x="1143" y="354" width="3" height="4" fill="#00ff00" />
<rect x="1148" y="341" width="1" height="22" fill="#ff0000" />
<rect x="1147" y="344" width="3" height="13" fill="#ff0000" />
<rect x="1152" y="334" width="1" height="26" fill="#00ff00" />
<rect x="1151" y="344" width="3" height="15" fill="#00ff00" />
<rect x="1156" y="345" width="1" height="28" fill="#ff0000" />
<rect x="1155" y="347" width="3" height="12" fill="#ff0000" />
<rect x="1160" y="332" width="1" height="20" fill="#ff0000" />
<rect x="1159" y="343" width="3" height="7" fill="#ff0000" />
<rect x="1164" y="334" width="1" height="12" fill="#00ff00" />
<rect x="1163" y="343" width="3" height="3" fill="#00ff00" />
<rect x="1168" y="342" width="1" height="17" fill="#00ff00" />
<rect x="1167" y="347" width="3" height="3" fill="#00ff00" />
<rect x="1172" y="328" width="1" height="25" fill="#ff0000" />
<rect x="1171" y="341" width="3" height="10" fill="#ff0000" />
<rect x="1176" y="334" width="1" height="31" fill="#00ff00" />
<rect x="1175" y="343" width="3" height="21" fill="#00ff00" />
<rect x="1180" y="356" width="1" height="14" fill="#ff0000" />
<rect x="1179" y="357" width="3" height="6" fill="#ff0000" />
<rect x="1184" y="345" width="1" height="17" fill="#ff0000" />
<rect x="1183" y="348" width="3" height="11" fill="#ff0000" />
<rect x="1188" y="346" width="1" height="6" fill="#ff0000" />
<rect x="1187" y="347" width="3" height="3" fill="#ff0000" />
<rect x="1192" y="342" width="1" height="20" fill="#00ff00" />
<rect x="1191" y="347" width="3" height="15" fill="#00ff00" />
<rect x="1196" y="357" width="1" height="31" fill="#00ff00" />
<rect x="1195" y="360" width="3" height="25" fill="#00ff00" />
<rect x="1200" y="373" width="1" height="22" fill="#00ff00" />
<rect x="1199" y="383" width="3" height="12" fill="#00ff00" />
<rect x="1204" y="388" width="1" height="19" fill="#00ff00" />
<rect x="1203" y="393" width="3" height="13" fill="#00ff00" />
<rect x="1208" y="383" width="1" height="27" fill="#ff0000" />
<rect x="1207" y="388" width="3" height="17" fill="#ff0000" />
<rect x="1212" y="385" width="1" height="8" fill="#00ff00" />
<rect x="1211" y="388" width="3" height="2" fill="#00ff00" />
<rect x="1216" y="387" width="1" height="20" fill="#00ff00" />
<rect x="1215" y="389" width="3" height="13" fill="#00ff00" />
<rect x="1220" y="393" width="1" height="23" fill="#00ff00" />
<rect x="1219" y="400" width="3" height="7" fill="#00ff00" />
<rect x="1224" y="399" width="1" height="15" fill="#ff0000" />
<rect x="1223" y="404" width="3" height="3" fill="#ff0000" />
<rect x="1228" y="379" width="1" height="36" fill="#ff0000" />
<rect x="1227" y="384" width="3" height="20" fill="#ff0000" />
<rect x="1232" y="381" width="1" height="23" fill="#00ff00" />
<rect x="1231" y="384" width="3" height="18" fill="#00ff00" />
<rect x="1236" y="391" width="1" height="13" fill="#00ff00" />
<rect x="1235" y="391" width="3" height="12" fill="#00ff00" />
<rect x="1240" y="381" width="1" height="19" fill="#ff0000" />
<rect x="1239" y="393" width="3" height="4" fill="#ff0000" />
<rect x="1244" y="390" width="1" height="20" fill="#00ff00" />
<rect x="1243" y="393" width="3" height="14" fill="#00ff00" />
<rect x="1248" y="403" width="1" height="40" fill="#00ff00" />
<rect x="1247" y="403" width="3" height="34" fill="#00ff00" />
<rect x="1252" y="416" width="1" height="24" fill="#ff0000" />
<rect x="1251" y="426" width="3" height="11" fill="#ff0000" />
<rect x="1256" y="396" width="1" height="36" fill="#ff0000" />
<rect x="1255" y="397" width="3" height="31" fill="#ff0000" />
<rect x="1260" y="396" width="1" height="7" fill="#00ff00" />
<rect x="1259" y="397" width="3" height="5" fill="#00ff00" />
<rect x="1264" y="397" width="1" height="16" fill="#00ff00" />
<rect x="1263" y="399" width="3" height="12" fill="#00ff00" />
<rect x="1268" y="406" width="1" height="8" fill="#ff0000" />
<rect x="1267" y="408" width="3" height="2" fill="#ff0000" />
<polyline points="0.5,470.36 4.5,468.69 8.5,467.20 12.5,465.86 16.5,464.30 20.5,462.86 24.5,460.48 28.5,458.11 32.5,456.15 36.5,454.31 40.5,452.19 44.5,449.83 48.5,448.05 52.5,446.13 56.5,444.05 60.5,442.31 64.5,440.72 68.5,439.35 72.5,437.76 76.5,436.32 80.5,434.96 84.5,433.43 88.5,431.96 92.5,430.49 96.5,429.94 100.5,429.56 104.5,429.99 108.5,430.50 112.5,431.48 116.5,432.56 120.5,433.20 124.5,433.53 128.5,433.13 132.5,432.47 136.5,432.40 140.5,432.13 144.5,432.47 148.5,433.00 152.5,433.07 156.5,432.97 160.5,433.23 164.5,433.90 168.5,433.83 172.5,434.10 176.5,434.77 180.5,435.20 184.5,435.57 188.5,435.93 192.5,435.83 196.5,435.57 200.5,435.23 204.5,435.23 208.5,435.40 212.5,435.40 216.5,434.67 220.5,434.37 224.5,434.27 228.5,434.20 232.5,433.37 236.5,432.87 240.5,432.90 244.5,433.57 248.5,434.83 252.5,436.30 256.5,437.60 260.5,439.10 264.5,440.87 268.5,442.57 272.5,444.43 276.5,446.43 280.5,448.30 284.5,449.93 288.5,450.80 292.5,451.93 296.5,452.87 300.5,453.77 304.5,454.70 308.5,455.33 312.5,456.60 316.5,458.03 320.5,459.10 324.5,459.93 328.5,460.77 332.5,461.70 336.5,462.43 340.5,462.57 344.5,462.20 348.5,461.73 352.5,461.90 356.5,461.63 360.5,460.67 364.5,459.43 368.5,458.00 372.5,456.40 376.5,454.43 380.5,452.53 384.5,450.80 388.5,448.87 392.5,446.93 396.5,444.90 400.5,442.77 404.5,440.83 408.5,440.40 412.5,440.03 416.5,438.93 420.5,437.93 424.5,437.13 428.5,436.43 432.5,436.07 436.5,435.87 440.5,436.00 444.5,436.43 448.5,437.00 452.5,437.63 456.5,438.83 460.5,440.00 464.5,440.47 468.5,441.03 472.5,441.40 476.5,442.00 480.5,443.20 484.5,444.60 488.5,446.43 492.5,448.50 496.5,450.87 500.5,453.83 504.5,456.50 508.5,459.33 512.5,462.00 516.5,464.63 520.5,467.63 524.5,470.13 528.5,471.93 532.5,472.70 536.5,474.63 540.5,476.43 544.5,478.03 548.5,479.57 552.5,481.13 556.5,482.40 560.5,483.73 564.5,484.80 568.5,485.67 572.5,486.50 576.5,486.43 580.5,486.27 584.5,486.57 588.5,486.83 592.5,486.77 596.5,486.57 600.5,486.20 604.5,485.20 608.5,483.93 612.5,482.43 616.5,480.50 620.5,477.63 624.5,474.83 628.5,471.93 632.5,469.03 636.5,466.23 640.5,463.03 644.5,460.60 648.5,458.53 652.5,457.13 656.5,455.27 660.5,453.53 664.5,451.87 668.5,450.20 672.5,448.40 676.5,446.77 680.5,445.23 684.5,443.90 688.5,442.00 692.5,440.03 696.5,438.40 700.5,436.50 704.5,433.90 708.5,431.53 712.5,429.67 716.5,428.27 720.5,426.53 724.5,424.93 728.5,423.07 732.5,421.43 736.5,419.13 740.5,414.63 744.5,410.50 748.5,405.27 752.5,399.00 756.5,393.37 760.5,387.43 764.5,379.17 768.5,367.63 772.5,356.63 776.5,346.60 780.5,335.87 784.5,324.03 788.5,312.93 792.5,303.03 796.5,295.63 800.5,287.87 804.5,281.20 808.5,272.90 812.5,265.17 816.5,256.77 820.5,249.87 824.5,243.37 828.5,236.50 832.5,229.77 836.5,224.00 840.5,218.37 844.5,213.13 848.5,208.30 852.5,203.37 856.5,199.43 860.5,198.30 864.5,195.07 868.5,192.67 872.5,192.30 876.5,191.40 880.5,190.57 884.5,190.47 888.5,194.27 892.5,198.20 896.5,200.60 900.5,203.47 904.5,208.00 908.5,212.40 912.5,216.00 916.5,217.20 920.5,216.97 924.5,215.87 928.5,216.70 932.5,217.67 936.5,218.40 940.5,219.73 944.5,221.80 948.5,223.80 952.5,224.70 956.5,224.30 960.5,223.63 964.5,222.63 968.5,221.47 972.5,220.10 976.5,220.00 980.5,220.23 984.5,222.00 988.5,223.70 992.5,223.80 996.5,224.00 1000.5,224.90 1004.5,228.40 1008.5,231.40 1012.5,233.83 1016.5,236.47 1020.5,239.53 1024.5,243.60 1028.5,247.90 1032.5,251.97 1036.5,255.57 1040.5,261.80 1044.5,267.53 1048.5,273.90 1052.5,279.30 1056.5,286.00 1060.5,289.70 1064.5,292.60 1068.5,295.53 1072.5,299.27 1076.5,303.40 1080.5,308.13 1084.5,312.67 1088.5,317.13 1092.5,321.63 1096.5,325.47 1100.5,328.80 1104.5,331.63 1108.5,334.23 1112.5,337.20 1116.5,340.33 1120.5,342.87 1124.5,344.77 1128.5,346.63 1132.5,348.17 1136.5,350.40 1140.5,352.40 1144.5,352.87 1148.5,352.20 1152.5,351.73 1156.5,351.17 1160.5,349.57 1164.5,348.20 1168.5,346.50 1172.5,345.00 1176.5,343.97 1180.5,344.17 1184.5,344.30 1188.5,344.63 1192.5,345.43 1196.5,346.50 1200.5,348.00 1204.5,350.03 1208.5,351.60 1212.5,353.30 1216.5,354.77 1220.5,356.10 1224.5,358.20 1228.5,360.20 1232.5,363.07 1236.5,365.57 1240.5,368.10 1244.5,370.37 1248.5,373.33 1252.5,376.10 1256.5,377.63 1260.5,379.23 1264.5,381.00 1268.5,383.13" fill="none" stroke="#0000c8" stroke-width="1"/>
<polyline points="0.5,453.69 4.5,451.25 8.5,449.35 12.5,447.98 16.5,446.27 20.5,444.99 24.5,441.85 28.5,438.91 32.5,437.09 36.5,435.78 40.5,434.12 44.5,432.13 48.5,431.61 52.5,430.92 56.5,429.86 60.5,428.93 64.5,427.79 68.5,426.57 72.5,425.21 76.5,423.71 80.5,424.21 84.5,424.21 88.5,423.36 92.5,422.07 96.5,423.14 100.5,424.93 104.5,427.00 108.5,429.36 112.5,432.93 116.5,435.86 120.5,437.57 124.5,438.79 128.5,439.43 132.5,439.71 136.5,440.79 140.5,442.21 144.5,442.93 148.5,444.29 152.5,443.79 156.5,443.07 160.5,441.07 164.5,439.43 168.5,436.64 172.5,434.21 176.5,433.21 180.5,432.50 184.5,433.00 188.5,434.00 192.5,432.57 196.5,431.07 200.5,430.14 204.5,429.00 208.5,428.36 212.5,427.29 216.5,426.21 220.5,425.93 224.5,427.93 228.5,429.57 232.5,429.93 236.5,430.86 240.5,431.86 244.5,433.71 248.5,437.29 252.5,441.29 256.5,445.86 260.5,450.50 264.5,454.64 268.5,459.64 272.5,464.71 276.5,468.93 280.5,471.14 284.5,473.14 288.5,474.00 292.5,475.07 296.5,476.00 300.5,475.79 304.5,475.57 308.5,474.79 312.5,473.29 316.5,471.64 320.5,469.21 324.5,466.21 328.5,463.36 332.5,460.00 336.5,456.50 340.5,453.00 344.5,452.36 348.5,450.57 352.5,449.29 356.5,447.71 360.5,444.64 364.5,442.50 368.5,440.29 372.5,437.79 376.5,435.86 380.5,434.64 384.5,433.29 388.5,432.14 392.5,431.50 396.5,431.07 400.5,429.50 404.5,428.36 408.5,427.93 412.5,428.79 416.5,429.43 420.5,429.71 424.5,430.86 428.5,432.00 432.5,433.93 436.5,435.93 440.5,437.50 444.5,439.57 448.5,442.07 452.5,444.43 456.5,448.07 460.5,451.21 464.5,452.50 468.5,452.71 472.5,454.57 476.5,456.43 480.5,457.64 484.5,460.00 488.5,462.50 492.5,464.86 496.5,467.71 500.5,471.93 504.5,475.07 508.5,478.64 512.5,481.14 516.5,483.86 520.5,487.71 524.5,490.71 528.5,493.36 532.5,494.57 536.5,496.79 540.5,497.93 544.5,498.57 548.5,498.57 552.5,498.79 556.5,497.14 560.5,495.86 564.5,494.14 568.5,492.79 572.5,491.29 576.5,488.36 580.5,485.79 584.5,483.86 588.5,483.00 592.5,480.57 596.5,478.14 600.5,475.14 604.5,472.07 608.5,468.50 612.5,464.93 616.5,460.79 620.5,456.57 624.5,451.86 628.5,447.43 632.5,443.86 636.5,440.93 640.5,437.29 644.5,434.50 648.5,432.86 652.5,431.50 656.5,430.50 660.5,430.07 664.5,429.86 668.5,429.50 672.5,430.00 676.5,431.00 680.5,432.43 684.5,434.07 688.5,434.86 692.5,435.14 696.5,435.57 700.5,434.14 704.5,431.07 708.5,428.14 712.5,425.71 716.5,424.00 720.5,420.86 724.5,417.93 728.5,414.21 732.5,410.64 736.5,404.86 740.5,393.86 744.5,384.36 748.5,372.93 752.5,359.43 756.5,348.50 760.5,337.71 764.5,322.29 768.5,299.93 772.5,278.00 776.5,259.21 780.5,239.21 784.5,217.64 788.5,197.00 792.5,181.21 796.5,176.00 800.5,169.64 804.5,168.21 808.5,164.64 812.5,160.43 816.5,155.57 820.5,157.07 824.5,164.79 828.5,170.71 832.5,175.36 836.5,184.29 840.5,194.43 844.5,204.07 848.5,211.21 852.5,212.93 856.5,215.36 860.5,216.21 864.5,217.57 868.5,217.57 872.5,221.29 876.5,223.21 880.5,224.57 884.5,223.64 888.5,223.86 892.5,222.71 896.5,221.14 900.5,218.50 904.5,217.00 908.5,216.36 912.5,216.71 916.5,216.50 920.5,216.57 924.5,217.93 928.5,216.93 932.5,216.71 936.5,215.21 940.5,219.79 944.5,223.79 948.5,225.57 952.5,227.00 956.5,228.93 960.5,227.93 964.5,226.00 968.5,222.93 972.5,219.14 976.5,221.86 980.5,225.57 984.5,228.93 988.5,230.50 992.5,232.86 996.5,232.36 1000.5,231.21 1004.5,233.50 1008.5,238.21 1012.5,243.14 1016.5,248.64 1020.5,254.71 1024.5,264.43 1028.5,275.93 1032.5,285.21 1036.5,292.21 1040.5,301.86 1044.5,311.86 1048.5,324.29 1052.5,335.21 1056.5,346.14 1060.5,351.14 1064.5,354.93 1068.5,357.79 1072.5,361.57 1076.5,365.79 1080.5,366.21 1084.5,364.79 1088.5,362.57 1092.5,360.71 1096.5,358.29 1100.5,356.86 1104.5,352.64 1108.5,348.21 1112.5,342.57 1116.5,340.86 1120.5,338.93 1124.5,339.00 1128.5,339.71 1132.5,339.07 1136.5,339.21 1140.5,339.86 1144.5,341.00 1148.5,341.43 1152.5,341.50 1156.5,340.14 1160.5,340.29 1164.5,341.79 1168.5,344.21 1172.5,345.21 1176.5,348.50 1180.5,349.86 1184.5,349.93 1188.5,350.21 1192.5,350.93 1196.5,353.14 1200.5,355.79 1204.5,360.14 1208.5,362.29 1212.5,365.29 1216.5,369.43 1220.5,373.79 1224.5,377.71 1228.5,380.79 1232.5,383.50 1236.5,386.71 1240.5,389.93 1244.5,394.14 1248.5,399.50 1252.5,402.50 1256.5,402.71 1260.5,402.43 1264.5,404.00 1268.5,405.36" fill="none" stroke="#ff0000" stroke-width="1"/>
<polyline points="0.5,438.18 4.5,436.54 8.5,436.77 12.5,438.90 16.5,440.36 20.5,443.00 24.5,438.80 28.5,433.60 32.5,429.80 36.5,428.00 40.5,423.60 44.5,423.00 48.5,425.60 52.5,424.60 56.5,421.60 60.5,422.00 64.5,424.60 68.5,424.80 72.5,424.40 76.5,425.80 80.5,425.60 84.5,423.60 88.5,420.80 92.5,419.20 96.5,422.00 100.5,425.00 104.5,433.40 108.5,441.40 112.5,452.00 116.5,457.60 120.5,460.00 124.5,457.80 128.5,452.60 132.5,444.80 136.5,439.40 140.5,436.60 144.5,432.40 148.5,432.80 152.5,433.40 156.5,431.40 160.5,430.20 164.5,431.60 168.5,430.60 172.5,430.80 176.5,432.40 180.5,433.80 184.5,434.60 188.5,437.40 192.5,434.80 196.5,430.60 200.5,425.80 204.5,421.60 208.5,417.60 212.5,416.60 216.5,416.60 220.5,419.80 224.5,427.60 228.5,434.20 232.5,439.80 236.5,446.80 240.5,451.20 244.5,453.60 248.5,456.40 252.5,462.40 256.5,467.80 260.5,473.80 264.5,476.20 268.5,479.20 272.5,482.20 276.5,484.40 280.5,485.40 284.5,486.00 288.5,480.00 292.5,475.80 296.5,471.00 300.5,466.60 304.5,463.20 308.5,464.60 312.5,462.80 316.5,461.60 320.5,457.80 324.5,453.00 328.5,450.20 332.5,447.20 336.5,443.00 340.5,440.60 344.5,441.20 348.5,440.00 352.5,441.00 356.5,442.00 360.5,439.80 364.5,437.00 368.5,434.00 372.5,429.40 376.5,424.60 380.5,425.00 384.5,424.40 388.5,424.40 392.5,425.40 396.5,427.20 400.5,426.80 404.5,426.20 408.5,429.20 412.5,434.40 416.5,435.20 420.5,437.60 424.5,441.00 428.5,440.80 432.5,439.00 436.5,443.20 440.5,446.20 444.5,448.80 448.5,453.60 452.5,456.60 456.5,460.80 460.5,464.60 464.5,465.40 468.5,464.20 472.5,463.60 476.5,461.00 480.5,459.00 484.5,461.80 488.5,466.40 492.5,472.00 496.5,477.80 500.5,488.80 504.5,495.80 508.5,501.80 512.5,506.40 516.5,509.80 520.5,509.60 524.5,508.00 528.5,504.80 532.5,498.60 536.5,495.20 540.5,490.40 544.5,488.40 548.5,486.60 552.5,489.60 556.5,489.80 560.5,490.00 564.5,489.40 568.5,490.20 572.5,488.80 576.5,485.00 580.5,479.80 584.5,476.00 588.5,471.20 592.5,465.20 596.5,461.80 600.5,458.60 604.5,453.60 608.5,449.00 612.5,446.00 616.5,441.40 620.5,437.40 624.5,433.60 628.5,429.80 632.5,426.00 636.5,424.20 640.5,422.00 644.5,422.60 648.5,424.40 652.5,427.20 656.5,429.40 660.5,433.40 664.5,436.00 668.5,436.60 672.5,437.20 676.5,438.80 680.5,440.20 684.5,441.60 688.5,441.00 692.5,438.60 696.5,434.80 700.5,427.40 704.5,416.00 708.5,408.40 712.5,403.00 716.5,401.00 720.5,398.80 724.5,399.80 728.5,398.20 732.5,396.60 736.5,386.60 740.5,366.00 744.5,347.00 748.5,323.00 752.5,291.40 756.5,269.60 760.5,258.80 764.5,234.60 768.5,198.60 772.5,173.00 776.5,148.80 780.5,124.00 784.5,105.20 788.5,108.40 792.5,115.60 796.5,133.00 800.5,152.20 804.5,184.60 808.5,200.80 812.5,211.40 816.5,201.60 820.5,199.40 824.5,189.00 828.5,190.00 832.5,190.60 836.5,204.40 840.5,209.80 844.5,218.40 848.5,229.00 852.5,238.20 856.5,239.20 860.5,245.60 864.5,238.60 868.5,229.20 872.5,225.00 876.5,221.40 880.5,212.40 884.5,207.00 888.5,208.20 892.5,208.40 896.5,204.00 900.5,201.40 904.5,210.40 908.5,217.20 912.5,222.40 916.5,232.60 920.5,233.20 924.5,231.80 928.5,226.60 932.5,221.40 936.5,208.80 940.5,216.00 944.5,224.60 948.5,232.60 952.5,232.80 956.5,239.80 960.5,233.20 964.5,223.40 968.5,215.00 972.5,210.60 976.5,213.40 980.5,225.20 984.5,234.80 988.5,242.60 992.5,247.20 996.5,245.40 1000.5,240.40 1004.5,245.40 1008.5,254.40 1012.5,268.60 1016.5,278.80 1020.5,289.20 1024.5,301.60 1028.5,316.20 1032.5,331.20 1036.5,347.20 1040.5,366.80 1044.5,375.40 1048.5,382.60 1052.5,385.40 1056.5,391.40 1060.5,383.40 1064.5,375.00 1068.5,362.40 1072.5,352.60 1076.5,344.20 1080.5,343.80 1084.5,343.80 1088.5,344.60 1092.5,344.80 1096.5,345.80 1100.5,349.20 1104.5,348.60 1108.5,345.20 1112.5,340.60 1116.5,334.60 1120.5,324.80 1124.5,324.20 1128.5,328.80 1132.5,334.40 1136.5,339.20 1140.5,346.40 1144.5,350.20 1148.5,349.60 1152.5,352.60 1156.5,351.80 1160.5,349.80 1164.5,347.40 1168.5,348.40 1172.5,345.00 1176.5,348.20 1180.5,351.00 1184.5,351.60 1188.5,351.20 1192.5,355.20 1196.5,359.40 1200.5,366.80 1204.5,378.20 1208.5,386.40 1212.5,392.00 1216.5,395.40 1220.5,397.80 1224.5,397.60 1228.5,396.80 1232.5,399.20 1236.5,399.40 1240.5,396.80 1244.5,397.20 1248.5,407.60 1252.5,412.60 1256.5,411.60 1260.5,413.20 1264.5,414.00 1268.5,408.40" fill="none" stroke="#ffa500" stroke-width="1"/>
<rect x="4" y="202" width="1592" height="2" fill="#ff0000" />
<rect x="3" y="200" width="6" height="6" fill="#ff0000" />
<rect x="5" y="202" width="2" height="2" fill="#ffffff" />
<rect x="1590" y="200" width="6" height="6" fill="#ff0000" />
<rect x="1592" y="202" width="2" height="2" fill="#ffffff" />
<rect x="4" y="273" width="1592" height="2" fill="#ff0000" />
<rect x="3" y="271" width="6" height="6" fill="#ff0000" />
<rect x="5" y="273" width="2" height="2" fill="#ffffff" />
<rect x="1590" y="271" width="6" height="6" fill="#ff0000" />
<rect x="1592" y="273" width="2" height="2" fill="#ffffff" />
<rect x="4" y="339" width="1592" height="2" fill="#00ff00" />
<rect x="3" y="337" width="6" height="6" fill="#00ff00" />
<rect x="5" y="339" width="2" height="2" fill="#ffffff" />
<rect x="1590" y="337" width="6" height="6" fill="#00ff00" />
<rect x="1592" y="339" width="2" height="2" fill="#ffffff" />
<rect x="4" y="421" width="1592" height="2" fill="#0000ff" />
<rect x="3" y="419" width="6" height="6" fill="#0000ff" />
<rect x="5" y="421" width="2" height="2" fill="#ffffff" />
<rect x="1590" y="419" width="6" height="6" fill="#0000ff" />
<rect x="1592" y="421" width="2" height="2" fill="#ffffff" />
<rect x="4" y="503" width="1592" height="2" fill="#0000ff" />
<rect x="3" y="501" width="6" height="6" fill="#0000ff" />
<rect x="5" y="503" width="2" height="2" fill="#ffffff" />
<rect x="1590" y="501" width="6" height="6" fill="#0000ff" />
<rect x="1592" y="503" width="2" height="2" fill="#ffffff" />
</g></svg>
<rect x="3.5" y="25.5" width="1593" height="505" fill="none" stroke="#000" stroke-width="1"/>
<path d="M1271.5 26 L1281.5 26 L1276.5 31 Z" fill="#c0c0c0"/>
<path d="M7 32 L14 32 L10.5 36 Z" fill="#000"/>
<text x="19.2" y="36.8" font-size="10" fill="#000" stroke="#000" stroke-width="0.12" textLength="66.00" lengthAdjust="spacingAndGlyphs" >USDCAD,Daily</text>
<text x="91.2" y="36.8" font-size="10" fill="#000" stroke="#000" stroke-width="0.12" textLength="141.00" lengthAdjust="spacingAndGlyphs" >1.33507 1.33601 1.33399 1.33519</text>
<rect x="1597" y="32" width="2" height="1" fill="#000" />
<text x="1602" y="36" font-size="10" fill="#000" stroke="#000" stroke-width="0.12" textLength="33.50" lengthAdjust="spacingAndGlyphs" >1.47340</text>
<rect x="1597" y="65" width="2" height="1" fill="#000" />
<text x="1602" y="69" font-size="10" fill="#000" stroke="#000" stroke-width="0.12" textLength="33.50" lengthAdjust="spacingAndGlyphs" >1.46115</text>
<rect x="1597" y="98" width="2" height="1" fill="#000" />
<text x="1602" y="102" font-size="10" fill="#000" stroke="#000" stroke-width="0.12" textLength="33.50" lengthAdjust="spacingAndGlyphs" >1.44890</text>
<rect x="1597" y="131" width="2" height="1" fill="#000" />
<text x="1602" y="135" font-size="10" fill="#000" stroke="#000" stroke-width="0.12" textLength="33.50" lengthAdjust="spacingAndGlyphs" >1.43700</text>
<rect x="1597" y="164" width="2" height="1" fill="#000" />
<text x="1602" y="168" font-size="10" fill="#000" stroke="#000" stroke-width="0.12" textLength="33.50" lengthAdjust="spacingAndGlyphs" >1.42475</text>
<rect x="1597" y="197" width="2" height="1" fill="#000" />
<text x="1602" y="201" font-size="10" fill="#000" stroke="#000" stroke-width="0.12" textLength="33.50" lengthAdjust="spacingAndGlyphs" >1.41285</text>
<rect x="1597" y="230" width="2" height="1" fill="#000" />
<text x="1602" y="234" font-size="10" fill="#000" stroke="#000" stroke-width="0.12" textLength="33.50" lengthAdjust="spacingAndGlyphs" >1.40060</text>
<rect x="1597" y="263" width="2" height="1" fill="#000" />
<text x="1602" y="267" font-size="10" fill="#000" stroke="#000" stroke-width="0.12" textLength="33.50" lengthAdjust="spacingAndGlyphs" >1.38835</text>
<rect x="1597" y="296" width="2" height="1" fill="#000" />
<text x="1602" y="300" font-size="10" fill="#000" stroke="#000" stroke-width="0.12" textLength="33.50" lengthAdjust="spacingAndGlyphs" >1.37645</text>
<rect x="1597" y="329" width="2" height="1" fill="#000" />
<text x="1602" y="333" font-size="10" fill="#000" stroke="#000" stroke-width="0.12" textLength="33.50" lengthAdjust="spacingAndGlyphs" >1.36420</text>
<rect x="1597" y="362" width="2" height="1" fill="#000" />
<text x="1602" y="366" font-size="10" fill="#000" stroke="#000" stroke-width="0.12" textLength="33.50" lengthAdjust="spacingAndGlyphs" >1.35230</text>
<rect x="1597" y="395" width="2" height="1" fill="#000" />
<text x="1602" y="399" font-size="10" fill="#000" stroke="#000" stroke-width="0.12" textLength="33.50" lengthAdjust="spacingAndGlyphs" >1.34005</text>
<rect x="1597" y="428" width="2" height="1" fill="#000" />
<text x="1602" y="432" font-size="10" fill="#000" stroke="#000" stroke-width="0.12" textLength="33.50" lengthAdjust="spacingAndGlyphs" >1.32780</text>
<rect x="1597" y="461" width="2" height="1" fill="#000" />
<text x="1602" y="465" font-size="10" fill="#000" stroke="#000" stroke-width="0.12" textLength="33.50" lengthAdjust="spacingAndGlyphs" >1.31590</text>
<rect x="1597" y="494" width="2" height="1" fill="#000" />
<text x="1602" y="498" font-size="10" fill="#000" stroke="#000" stroke-width="0.12" textLength="33.50" lengthAdjust="spacingAndGlyphs" >1.30365</text>
<rect x="1597" y="527" width="2" height="1" fill="#000" />
<text x="1602" y="531" font-size="10" fill="#000" stroke="#000" stroke-width="0.12" textLength="33.50" lengthAdjust="spacingAndGlyphs" >1.29175</text>
<rect x="1598" y="197" width="41" height="11" fill="#ff0000" />
<text x="1602" y="206" font-size="10" fill="#fff" stroke="#fff" stroke-width="0.12" textLength="33.50" lengthAdjust="spacingAndGlyphs" >1.41060</text>
<rect x="1598" y="268" width="41" height="11" fill="#ff0000" />
<text x="1602" y="277" font-size="10" fill="#fff" stroke="#fff" stroke-width="0.12" textLength="33.50" lengthAdjust="spacingAndGlyphs" >1.38464</text>
<rect x="1598" y="334" width="41" height="11" fill="#00ff00" />
<text x="1602" y="343" font-size="10" fill="#fff" stroke="#fff" stroke-width="0.12" textLength="33.50" lengthAdjust="spacingAndGlyphs" >1.36015</text>
<rect x="1598" y="403" width="41" height="11" fill="#000000" />
<text x="1602" y="412" font-size="10" fill="#fff" stroke="#fff" stroke-width="0.12" textLength="33.50" lengthAdjust="spacingAndGlyphs" >1.33519</text>
<rect x="1598" y="416" width="41" height="11" fill="#0000ff" />
<text x="1602" y="425" font-size="10" fill="#fff" stroke="#fff" stroke-width="0.12" textLength="33.50" lengthAdjust="spacingAndGlyphs" >1.33011</text>
<rect x="1598" y="498" width="41" height="11" fill="#0000ff" />
<text x="1602" y="507" font-size="10" fill="#fff" stroke="#fff" stroke-width="0.12" textLength="33.50" lengthAdjust="spacingAndGlyphs" >1.30020</text>
<svg x="4" y="533" width="1592" height="91" overflow="hidden"><g transform="translate(-4,-533)">
<line x1="4" y1="560.5" x2="1596" y2="560.5" stroke="#c0c0c0" stroke-dasharray="3,3" stroke-dashoffset="5" shape-rendering="crispEdges"/>
<line x1="4" y1="596.5" x2="1596" y2="596.5" stroke="#c0c0c0" stroke-dasharray="3,3" stroke-dashoffset="5" shape-rendering="crispEdges"/>
<polyline points="0.5,570.42 4.5,571.92 8.5,573.80 12.5,575.67 16.5,573.35 20.5,574.96 24.5,566.74 28.5,566.74 32.5,571.73 36.5,572.93 40.5,570.13 44.5,567.52 48.5,574.09 52.5,572.22 56.5,570.09 60.5,573.40 64.5,574.22 68.5,575.91 72.5,572.60 76.5,573.51 80.5,573.51 84.5,570.74 88.5,570.74 92.5,569.49 96.5,581.32 100.5,581.73 104.5,588.93 108.5,587.90 112.5,591.07 116.5,590.51 120.5,582.76 124.5,581.36 128.5,574.26 132.5,573.14 136.5,577.97 140.5,577.13 144.5,573.11 148.5,575.88 152.5,575.05 156.5,574.18 160.5,575.24 164.5,576.86 168.5,573.87 172.5,576.16 176.5,578.93 180.5,579.48 184.5,579.48 188.5,581.87 192.5,569.45 196.5,568.20 200.5,567.35 204.5,569.44 208.5,572.82 212.5,568.91 216.5,570.30 220.5,578.87 224.5,589.69 228.5,589.12 232.5,582.19 236.5,585.63 240.5,586.01 244.5,591.43 248.5,591.74 252.5,592.70 256.5,594.58 260.5,595.79 264.5,594.38 268.5,595.70 272.5,596.67 276.5,597.34 280.5,595.64 284.5,592.28 288.5,574.79 292.5,580.39 296.5,579.90 300.5,579.90 304.5,580.41 308.5,577.57 312.5,575.39 316.5,576.61 320.5,569.96 324.5,568.18 328.5,571.51 332.5,569.14 336.5,567.32 340.5,565.56 344.5,573.15 348.5,571.17 352.5,574.99 356.5,572.88 360.5,564.39 364.5,569.32 368.5,567.37 372.5,566.60 376.5,564.68 380.5,568.69 384.5,570.63 388.5,569.69 392.5,571.76 396.5,571.23 400.5,568.59 404.5,570.16 408.5,580.68 412.5,587.36 416.5,575.49 420.5,576.90 424.5,580.11 428.5,579.12 432.5,581.91 436.5,584.94 440.5,583.23 444.5,585.45 448.5,589.11 452.5,587.21 456.5,592.10 460.5,588.94 464.5,583.16 468.5,582.60 472.5,582.60 476.5,584.09 480.5,582.78 484.5,589.32 488.5,592.39 492.5,594.16 496.5,595.53 500.5,601.97 504.5,597.87 508.5,598.65 512.5,597.22 516.5,595.75 520.5,597.63 524.5,588.68 528.5,585.66 532.5,576.93 536.5,582.09 540.5,581.60 544.5,582.04 548.5,579.90 552.5,583.17 556.5,582.03 560.5,581.43 564.5,579.60 568.5,581.30 572.5,578.73 576.5,571.10 580.5,567.55 584.5,570.20 588.5,569.27 592.5,564.95 596.5,564.55 600.5,561.80 604.5,560.00 608.5,560.00 612.5,559.23 616.5,556.07 620.5,554.81 624.5,553.60 628.5,553.60 632.5,552.96 636.5,554.11 640.5,552.08 644.5,562.54 648.5,567.80 652.5,570.27 656.5,569.11 660.5,571.69 664.5,574.21 668.5,571.50 672.5,574.09 676.5,576.61 680.5,578.27 684.5,580.71 688.5,570.45 692.5,567.07 696.5,565.00 700.5,558.35 704.5,553.48 708.5,557.47 712.5,561.28 716.5,569.92 720.5,563.84 724.5,563.52 728.5,561.03 732.5,564.26 736.5,556.58 740.5,547.39 744.5,550.44 748.5,547.48 752.5,545.24 756.5,552.37 760.5,551.03 764.5,546.90 768.5,543.09 772.5,547.68 776.5,553.78 780.5,552.64 784.5,550.87 788.5,554.82 792.5,562.55 796.5,574.41 800.5,573.42 804.5,578.03 808.5,571.32 812.5,572.73 816.5,570.34 820.5,574.16 824.5,573.61 828.5,572.93 832.5,574.26 836.5,580.01 840.5,578.23 844.5,579.72 848.5,580.28 852.5,580.57 856.5,580.73 860.5,582.96 864.5,573.71 868.5,572.58 872.5,577.35 876.5,578.00 880.5,575.85 884.5,570.25 888.5,574.72 892.5,578.46 896.5,575.53 900.5,574.92 904.5,578.38 908.5,580.68 912.5,583.05 916.5,583.99 920.5,574.79 924.5,576.53 928.5,575.70 932.5,578.44 936.5,573.25 940.5,581.07 944.5,583.49 948.5,582.05 952.5,577.93 956.5,578.43 960.5,574.90 964.5,575.09 968.5,574.91 972.5,574.16 976.5,581.93 980.5,585.85 984.5,583.68 988.5,581.53 992.5,577.48 996.5,578.87 1000.5,580.47 1004.5,587.41 1008.5,588.90 1012.5,589.81 1016.5,586.50 1020.5,588.02 1024.5,594.99 1028.5,597.30 1032.5,598.14 1036.5,595.92 1040.5,598.91 1044.5,597.49 1048.5,599.05 1052.5,594.98 1056.5,596.00 1060.5,585.01 1064.5,583.46 1068.5,581.90 1072.5,581.90 1076.5,584.84 1080.5,584.05 1084.5,582.70 1088.5,581.86 1092.5,580.99 1096.5,585.54 1100.5,587.50 1104.5,580.12 1108.5,575.87 1112.5,573.78 1116.5,577.01 1120.5,574.56 1124.5,579.97 1128.5,582.08 1132.5,580.96 1136.5,582.93 1140.5,583.44 1144.5,584.47 1148.5,580.14 1152.5,583.95 1156.5,580.39 1160.5,579.12 1164.5,579.75 1168.5,581.03 1172.5,578.15 1176.5,584.91 1180.5,582.71 1184.5,579.52 1188.5,579.17 1192.5,583.68 1196.5,589.74 1200.5,591.97 1204.5,594.26 1208.5,587.56 1212.5,587.80 1216.5,590.68 1220.5,591.82 1224.5,590.94 1228.5,582.88 1232.5,587.41 1236.5,587.67 1240.5,584.14 1244.5,587.68 1248.5,594.20 1252.5,590.40 1256.5,581.07 1260.5,582.06 1264.5,584.27 1268.5,583.62" fill="none" stroke="#1e90ff" stroke-width="1" shape-rendering="crispEdges"/>
</g></svg>
<rect x="3.5" y="532.5" width="1593" height="92" fill="none" stroke="#000" stroke-width="1"/>
<text x="8.2" y="544.8" font-size="10" fill="#000" stroke="#000" stroke-width="0.12" textLength="68.00" lengthAdjust="spacingAndGlyphs" >RSI(14) 42.9977</text>
<rect x="1597" y="534" width="1" height="1" fill="#000" />
<rect x="1597" y="623" width="1" height="1" fill="#000" />
<text x="1600.2" y="543" font-size="10" fill="#000" stroke="#000" stroke-width="0.12" textLength="15.00" lengthAdjust="spacingAndGlyphs" >100</text>
<text x="1598.9" y="564" font-size="10" fill="#000" stroke="#000" stroke-width="0.12" textLength="10.00" lengthAdjust="spacingAndGlyphs" >70</text>
<text x="1598.9" y="600" font-size="10" fill="#000" stroke="#000" stroke-width="0.12" textLength="10.00" lengthAdjust="spacingAndGlyphs" >30</text>
<text x="1599.8" y="621" font-size="10" fill="#000" stroke="#000" stroke-width="0.12" textLength="5.20" lengthAdjust="spacingAndGlyphs" >0</text>
<svg x="4" y="627" width="1592" height="91" overflow="hidden"><g transform="translate(-4,-627)" shape-rendering="crispEdges">
<rect x="4" y="681" width="1" height="6" fill="#c0c0c0" />
<rect x="8" y="681" width="1" height="6" fill="#c0c0c0" />
<rect x="12" y="681" width="1" height="6" fill="#c0c0c0" />
<rect x="16" y="681" width="1" height="6" fill="#c0c0c0" />
<rect x="20" y="682" width="1" height="5" fill="#c0c0c0" />
<rect x="24" y="680" width="1" height="7" fill="#c0c0c0" />
<rect x="28" y="679" width="1" height="8" fill="#c0c0c0" />
<rect x="32" y="679" width="1" height="8" fill="#c0c0c0" />
<rect x="36" y="680" width="1" height="7" fill="#c0c0c0" />
<rect x="40" y="679" width="1" height="8" fill="#c0c0c0" />
<rect x="44" y="679" width="1" height="8" fill="#c0c0c0" />
<rect x="48" y="679" width="1" height="8" fill="#c0c0c0" />
<rect x="52" y="679" width="1" height="8" fill="#c0c0c0" />
<rect x="56" y="679" width="1" height="8" fill="#c0c0c0" />
<rect x="60" y="680" width="1" height="7" fill="#c0c0c0" />
<rect x="64" y="680" width="1" height="7" fill="#c0c0c0" />
<rect x="68" y="681" width="1" height="6" fill="#c0c0c0" />
<rect x="72" y="681" width="1" height="6" fill="#c0c0c0" />
<rect x="76" y="681" width="1" height="6" fill="#c0c0c0" />
<rect x="80" y="681" width="1" height="6" fill="#c0c0c0" />
<rect x="84" y="681" width="1" height="6" fill="#c0c0c0" />
<rect x="88" y="681" width="1" height="6" fill="#c0c0c0" />
<rect x="92" y="681" width="1" height="6" fill="#c0c0c0" />
<rect x="96" y="682" width="1" height="5" fill="#c0c0c0" />
<rect x="100" y="683" width="1" height="4" fill="#c0c0c0" />
<rect x="104" y="685" width="1" height="2" fill="#c0c0c0" />
<rect x="108" y="686" width="1" height="1" fill="#c0c0c0" />
<rect x="112" y="686" width="1" height="3" fill="#c0c0c0" />
<rect x="116" y="686" width="1" height="4" fill="#c0c0c0" />
<rect x="120" y="686" width="1" height="4" fill="#c0c0c0" />
<rect x="124" y="686" width="1" height="4" fill="#c0c0c0" />
<rect x="128" y="686" width="1" height="3" fill="#c0c0c0" />
<rect x="132" y="686" width="1" height="2" fill="#c0c0c0" />
<rect x="136" y="686" width="1" height="2" fill="#c0c0c0" />
<rect x="140" y="686" width="1" height="2" fill="#c0c0c0" />
<rect x="144" y="686" width="1" height="1" fill="#c0c0c0" />
<rect x="148" y="686" width="1" height="1" fill="#c0c0c0" />
<rect x="152" y="685" width="1" height="2" fill="#c0c0c0" />
<rect x="156" y="685" width="1" height="2" fill="#c0c0c0" />
<rect x="160" y="685" width="1" height="2" fill="#c0c0c0" />
<rect x="164" y="685" width="1" height="2" fill="#c0c0c0" />
<rect x="168" y="684" width="1" height="3" fill="#c0c0c0" />
<rect x="172" y="684" width="1" height="3" fill="#c0c0c0" />
<rect x="176" y="685" width="1" height="2" fill="#c0c0c0" />
<rect x="180" y="685" width="1" height="2" fill="#c0c0c0" />
<rect x="184" y="685" width="1" height="2" fill="#c0c0c0" />
<rect x="188" y="686" width="1" height="1" fill="#c0c0c0" />
<rect x="192" y="685" width="1" height="2" fill="#c0c0c0" />
<rect x="196" y="684" width="1" height="3" fill="#c0c0c0" />
<rect x="200" y="683" width="1" height="4" fill="#c0c0c0" />
<rect x="204" y="683" width="1" height="4" fill="#c0c0c0" />
<rect x="208" y="683" width="1" height="4" fill="#c0c0c0" />
<rect x="212" y="682" width="1" height="5" fill="#c0c0c0" />
<rect x="216" y="682" width="1" height="5" fill="#c0c0c0" />
<rect x="220" y="683" width="1" height="4" fill="#c0c0c0" />
<rect x="224" y="685" width="1" height="2" fill="#c0c0c0" />
<rect x="228" y="686" width="1" height="1" fill="#c0c0c0" />
<rect x="232" y="686" width="1" height="2" fill="#c0c0c0" />
<rect x="236" y="686" width="1" height="2" fill="#c0c0c0" />
<rect x="240" y="686" width="1" height="3" fill="#c0c0c0" />
<rect x="244" y="686" width="1" height="4" fill="#c0c0c0" />
<rect x="248" y="686" width="1" height="5" fill="#c0c0c0" />
<rect x="252" y="686" width="1" height="6" fill="#c0c0c0" />
<rect x="256" y="686" width="1" height="7" fill="#c0c0c0" />
<rect x="260" y="686" width="1" height="8" fill="#c0c0c0" />
<rect x="264" y="686" width="1" height="9" fill="#c0c0c0" />
<rect x="268" y="686" width="1" height="9" fill="#c0c0c0" />
<rect x="272" y="686" width="1" height="10" fill="#c0c0c0" />
<rect x="276" y="686" width="1" height="10" fill="#c0c0c0" />
<rect x="280" y="686" width="1" height="10" fill="#c0c0c0" />
<rect x="284" y="686" width="1" height="10" fill="#c0c0c0" />
<rect x="288" y="686" width="1" height="8" fill="#c0c0c0" />
<rect x="292" y="686" width="1" height="7" fill="#c0c0c0" />
<rect x="296" y="686" width="1" height="6" fill="#c0c0c0" />
<rect x="300" y="686" width="1" height="6" fill="#c0c0c0" />
<rect x="304" y="686" width="1" height="5" fill="#c0c0c0" />
<rect x="308" y="686" width="1" height="4" fill="#c0c0c0" />
<rect x="312" y="686" width="1" height="4" fill="#c0c0c0" />
<rect x="316" y="686" width="1" height="3" fill="#c0c0c0" />
<rect x="320" y="686" width="1" height="2" fill="#c0c0c0" />
<rect x="324" y="686" width="1" height="1" fill="#c0c0c0" />
<rect x="328" y="685" width="1" height="2" fill="#c0c0c0" />
<rect x="332" y="684" width="1" height="3" fill="#c0c0c0" />
<rect x="336" y="684" width="1" height="3" fill="#c0c0c0" />
<rect x="340" y="683" width="1" height="4" fill="#c0c0c0" />
<rect x="344" y="683" width="1" height="4" fill="#c0c0c0" />
<rect x="348" y="683" width="1" height="4" fill="#c0c0c0" />
<rect x="352" y="683" width="1" height="4" fill="#c0c0c0" />
<rect x="356" y="683" width="1" height="4" fill="#c0c0c0" />
<rect x="360" y="682" width="1" height="5" fill="#c0c0c0" />
<rect x="364" y="681" width="1" height="6" fill="#c0c0c0" />
<rect x="368" y="681" width="1" height="6" fill="#c0c0c0" />
<rect x="372" y="680" width="1" height="7" fill="#c0c0c0" />
<rect x="376" y="680" width="1" height="7" fill="#c0c0c0" />
<rect x="380" y="680" width="1" height="7" fill="#c0c0c0" />
<rect x="384" y="680" width="1" height="7" fill="#c0c0c0" />
<rect x="388" y="680" width="1" height="7" fill="#c0c0c0" />
<rect x="392" y="681" width="1" height="6" fill="#c0c0c0" />
<rect x="396" y="681" width="1" height="6" fill="#c0c0c0" />
<rect x="400" y="681" width="1" height="6" fill="#c0c0c0" />
<rect x="404" y="681" width="1" height="6" fill="#c0c0c0" />
<rect x="408" y="682" width="1" height="5" fill="#c0c0c0" />
<rect x="412" y="683" width="1" height="4" fill="#c0c0c0" />
<rect x="416" y="684" width="1" height="3" fill="#c0c0c0" />
<rect x="420" y="684" width="1" height="3" fill="#c0c0c0" />
<rect x="424" y="684" width="1" height="3" fill="#c0c0c0" />
<rect x="428" y="685" width="1" height="2" fill="#c0c0c0" />
<rect x="432" y="685" width="1" height="2" fill="#c0c0c0" />
<rect x="436" y="686" width="1" height="1" fill="#c0c0c0" />
<rect x="440" y="686" width="1" height="2" fill="#c0c0c0" />
<rect x="444" y="686" width="1" height="2" fill="#c0c0c0" />
<rect x="448" y="686" width="1" height="3" fill="#c0c0c0" />
<rect x="452" y="686" width="1" height="4" fill="#c0c0c0" />
<rect x="456" y="686" width="1" height="5" fill="#c0c0c0" />
<rect x="460" y="686" width="1" height="5" fill="#c0c0c0" />
<rect x="464" y="686" width="1" height="5" fill="#c0c0c0" />
<rect x="468" y="686" width="1" height="5" fill="#c0c0c0" />
<rect x="472" y="686" width="1" height="5" fill="#c0c0c0" />
<rect x="476" y="686" width="1" height="5" fill="#c0c0c0" />
<rect x="480" y="686" width="1" height="4" fill="#c0c0c0" />
<rect x="484" y="686" width="1" height="5" fill="#c0c0c0" />
<rect x="488" y="686" width="1" height="6" fill="#c0c0c0" />
<rect x="492" y="686" width="1" height="7" fill="#c0c0c0" />
<rect x="496" y="686" width="1" height="7" fill="#c0c0c0" />
<rect x="500" y="686" width="1" height="9" fill="#c0c0c0" />
<rect x="504" y="686" width="1" height="10" fill="#c0c0c0" />
<rect x="508" y="686" width="1" height="11" fill="#c0c0c0" />
<rect x="512" y="686" width="1" height="11" fill="#c0c0c0" />
<rect x="516" y="686" width="1" height="12" fill="#c0c0c0" />
<rect x="520" y="686" width="1" height="12" fill="#c0c0c0" />
<rect x="524" y="686" width="1" height="11" fill="#c0c0c0" />
<rect x="528" y="686" width="1" height="10" fill="#c0c0c0" />
<rect x="532" y="686" width="1" height="9" fill="#c0c0c0" />
<rect x="536" y="686" width="1" height="8" fill="#c0c0c0" />
<rect x="540" y="686" width="1" height="7" fill="#c0c0c0" />
<rect x="544" y="686" width="1" height="7" fill="#c0c0c0" />
<rect x="548" y="686" width="1" height="6" fill="#c0c0c0" />
<rect x="552" y="686" width="1" height="6" fill="#c0c0c0" />
<rect x="556" y="686" width="1" height="5" fill="#c0c0c0" />
<rect x="560" y="686" width="1" height="5" fill="#c0c0c0" />
<rect x="564" y="686" width="1" height="4" fill="#c0c0c0" />
<rect x="568" y="686" width="1" height="4" fill="#c0c0c0" />
<rect x="572" y="686" width="1" height="4" fill="#c0c0c0" />
<rect x="576" y="686" width="1" height="2" fill="#c0c0c0" />
<rect x="580" y="686" width="1" height="1" fill="#c0c0c0" />
<rect x="584" y="685" width="1" height="2" fill="#c0c0c0" />
<rect x="588" y="684" width="1" height="3" fill="#c0c0c0" />
<rect x="592" y="683" width="1" height="4" fill="#c0c0c0" />
<rect x="596" y="683" width="1" height="4" fill="#c0c0c0" />
<rect x="600" y="681" width="1" height="6" fill="#c0c0c0" />
<rect x="604" y="680" width="1" height="7" fill="#c0c0c0" />
<rect x="608" y="680" width="1" height="7" fill="#c0c0c0" />
<rect x="612" y="679" width="1" height="8" fill="#c0c0c0" />
<rect x="616" y="678" width="1" height="9" fill="#c0c0c0" />
<rect x="620" y="677" width="1" height="10" fill="#c0c0c0" />
<rect x="624" y="677" width="1" height="10" fill="#c0c0c0" />
<rect x="628" y="676" width="1" height="11" fill="#c0c0c0" />
<rect x="632" y="676" width="1" height="11" fill="#c0c0c0" />
<rect x="636" y="676" width="1" height="11" fill="#c0c0c0" />
<rect x="640" y="675" width="1" height="12" fill="#c0c0c0" />
<rect x="644" y="676" width="1" height="11" fill="#c0c0c0" />
<rect x="648" y="677" width="1" height="10" fill="#c0c0c0" />
<rect x="652" y="677" width="1" height="10" fill="#c0c0c0" />
<rect x="656" y="678" width="1" height="9" fill="#c0c0c0" />
<rect x="660" y="679" width="1" height="8" fill="#c0c0c0" />
<rect x="664" y="680" width="1" height="7" fill="#c0c0c0" />
<rect x="668" y="680" width="1" height="7" fill="#c0c0c0" />
<rect x="672" y="681" width="1" height="6" fill="#c0c0c0" />
<rect x="676" y="681" width="1" height="6" fill="#c0c0c0" />
<rect x="680" y="682" width="1" height="5" fill="#c0c0c0" />
<rect x="684" y="683" width="1" height="4" fill="#c0c0c0" />
<rect x="688" y="683" width="1" height="4" fill="#c0c0c0" />
<rect x="692" y="682" width="1" height="5" fill="#c0c0c0" />
<rect x="696" y="682" width="1" height="5" fill="#c0c0c0" />
<rect x="700" y="681" width="1" height="6" fill="#c0c0c0" />
<rect x="704" y="679" width="1" height="8" fill="#c0c0c0" />
<rect x="708" y="678" width="1" height="9" fill="#c0c0c0" />
<rect x="712" y="678" width="1" height="9" fill="#c0c0c0" />
<rect x="716" y="678" width="1" height="9" fill="#c0c0c0" />
<rect x="720" y="678" width="1" height="9" fill="#c0c0c0" />
<rect x="724" y="677" width="1" height="10" fill="#c0c0c0" />
<rect x="728" y="677" width="1" height="10" fill="#c0c0c0" />
<rect x="732" y="677" width="1" height="10" fill="#c0c0c0" />
<rect x="736" y="675" width="1" height="12" fill="#c0c0c0" />
<rect x="740" y="670" width="1" height="17" fill="#c0c0c0" />
<rect x="744" y="667" width="1" height="20" fill="#c0c0c0" />
<rect x="748" y="663" width="1" height="24" fill="#c0c0c0" />
<rect x="752" y="659" width="1" height="28" fill="#c0c0c0" />
<rect x="756" y="656" width="1" height="31" fill="#c0c0c0" />
<rect x="760" y="654" width="1" height="33" fill="#c0c0c0" />
<rect x="764" y="650" width="1" height="37" fill="#c0c0c0" />
<rect x="768" y="642" width="1" height="45" fill="#c0c0c0" />
<rect x="772" y="637" width="1" height="50" fill="#c0c0c0" />
<rect x="776" y="635" width="1" height="52" fill="#c0c0c0" />
<rect x="780" y="634" width="1" height="53" fill="#c0c0c0" />
<rect x="784" y="631" width="1" height="56" fill="#c0c0c0" />
<rect x="788" y="631" width="1" height="56" fill="#c0c0c0" />
<rect x="792" y="634" width="1" height="53" fill="#c0c0c0" />
<rect x="796" y="640" width="1" height="47" fill="#c0c0c0" />
<rect x="800" y="645" width="1" height="42" fill="#c0c0c0" />
<rect x="804" y="652" width="1" height="35" fill="#c0c0c0" />
<rect x="808" y="654" width="1" height="33" fill="#c0c0c0" />
<rect x="812" y="657" width="1" height="30" fill="#c0c0c0" />
<rect x="816" y="658" width="1" height="29" fill="#c0c0c0" />
<rect x="820" y="660" width="1" height="27" fill="#c0c0c0" />
<rect x="824" y="663" width="1" height="24" fill="#c0c0c0" />
<rect x="828" y="664" width="1" height="23" fill="#c0c0c0" />
<rect x="832" y="666" width="1" height="21" fill="#c0c0c0" />
<rect x="836" y="670" width="1" height="17" fill="#c0c0c0" />
<rect x="840" y="673" width="1" height="14" fill="#c0c0c0" />
<rect x="844" y="676" width="1" height="11" fill="#c0c0c0" />
<rect x="848" y="678" width="1" height="9" fill="#c0c0c0" />
<rect x="852" y="680" width="1" height="7" fill="#c0c0c0" />
<rect x="856" y="682" width="1" height="5" fill="#c0c0c0" />
<rect x="860" y="684" width="1" height="3" fill="#c0c0c0" />
<rect x="864" y="683" width="1" height="4" fill="#c0c0c0" />
<rect x="868" y="682" width="1" height="5" fill="#c0c0c0" />
<rect x="872" y="682" width="1" height="5" fill="#c0c0c0" />
<rect x="876" y="683" width="1" height="4" fill="#c0c0c0" />
<rect x="880" y="683" width="1" height="4" fill="#c0c0c0" />
<rect x="884" y="680" width="1" height="7" fill="#c0c0c0" />
<rect x="888" y="680" width="1" height="7" fill="#c0c0c0" />
<rect x="892" y="681" width="1" height="6" fill="#c0c0c0" />
<rect x="896" y="681" width="1" height="6" fill="#c0c0c0" />
<rect x="900" y="681" width="1" height="6" fill="#c0c0c0" />
<rect x="904" y="682" width="1" height="5" fill="#c0c0c0" />
<rect x="908" y="683" width="1" height="4" fill="#c0c0c0" />
<rect x="912" y="685" width="1" height="2" fill="#c0c0c0" />
<rect x="916" y="686" width="1" height="2" fill="#c0c0c0" />
<rect x="920" y="686" width="1" height="1" fill="#c0c0c0" />
<rect x="924" y="685" width="1" height="2" fill="#c0c0c0" />
<rect x="928" y="685" width="1" height="2" fill="#c0c0c0" />
<rect x="932" y="685" width="1" height="2" fill="#c0c0c0" />
<rect x="936" y="684" width="1" height="3" fill="#c0c0c0" />
<rect x="940" y="685" width="1" height="2" fill="#c0c0c0" />
<rect x="944" y="686" width="1" height="2" fill="#c0c0c0" />
<rect x="948" y="686" width="1" height="3" fill="#c0c0c0" />
<rect x="952" y="686" width="1" height="3" fill="#c0c0c0" />
<rect x="956" y="686" width="1" height="3" fill="#c0c0c0" />
<rect x="960" y="686" width="1" height="1" fill="#c0c0c0" />
<rect x="964" y="685" width="1" height="2" fill="#c0c0c0" />
<rect x="968" y="685" width="1" height="2" fill="#c0c0c0" />
<rect x="972" y="684" width="1" height="3" fill="#c0c0c0" />
<rect x="976" y="685" width="1" height="2" fill="#c0c0c0" />
<rect x="980" y="686" width="1" height="3" fill="#c0c0c0" />
<rect x="984" y="686" width="1" height="4" fill="#c0c0c0" />
<rect x="988" y="686" width="1" height="4" fill="#c0c0c0" />
<rect x="992" y="686" width="1" height="4" fill="#c0c0c0" />
<rect x="996" y="686" width="1" height="3" fill="#c0c0c0" />
<rect x="1000" y="686" width="1" height="4" fill="#c0c0c0" />
<rect x="1004" y="686" width="1" height="6" fill="#c0c0c0" />
<rect x="1008" y="686" width="1" height="8" fill="#c0c0c0" />
<rect x="1012" y="686" width="1" height="10" fill="#c0c0c0" />
<rect x="1016" y="686" width="1" height="11" fill="#c0c0c0" />
<rect x="1020" y="686" width="1" height="12" fill="#c0c0c0" />
<rect x="1024" y="686" width="1" height="15" fill="#c0c0c0" />
<rect x="1028" y="686" width="1" height="18" fill="#c0c0c0" />
<rect x="1032" y="686" width="1" height="21" fill="#c0c0c0" />
<rect x="1036" y="686" width="1" height="23" fill="#c0c0c0" />
<rect x="1040" y="686" width="1" height="25" fill="#c0c0c0" />
<rect x="1044" y="686" width="1" height="27" fill="#c0c0c0" />
<rect x="1048" y="686" width="1" height="28" fill="#c0c0c0" />
<rect x="1052" y="686" width="1" height="28" fill="#c0c0c0" />
<rect x="1056" y="686" width="1" height="29" fill="#c0c0c0" />
<rect x="1060" y="686" width="1" height="26" fill="#c0c0c0" />
<rect x="1064" y="686" width="1" height="24" fill="#c0c0c0" />
<rect x="1068" y="686" width="1" height="21" fill="#c0c0c0" />
<rect x="1072" y="686" width="1" height="19" fill="#c0c0c0" />
<rect x="1076" y="686" width="1" height="18" fill="#c0c0c0" />
<rect x="1080" y="686" width="1" height="16" fill="#c0c0c0" />
<rect x="1084" y="686" width="1" height="15" fill="#c0c0c0" />
<rect x="1088" y="686" width="1" height="13" fill="#c0c0c0" />
<rect x="1092" y="686" width="1" height="12" fill="#c0c0c0" />
<rect x="1096" y="686" width="1" height="12" fill="#c0c0c0" />
<rect x="1100" y="686" width="1" height="12" fill="#c0c0c0" />
<rect x="1104" y="686" width="1" height="10" fill="#c0c0c0" />
<rect x="1108" y="686" width="1" height="8" fill="#c0c0c0" />
<rect x="1112" y="686" width="1" height="6" fill="#c0c0c0" />
<rect x="1116" y="686" width="1" height="5" fill="#c0c0c0" />
<rect x="1120" y="686" width="1" height="4" fill="#c0c0c0" />
<rect x="1124" y="686" width="1" height="4" fill="#c0c0c0" />
<rect x="1128" y="686" width="1" height="4" fill="#c0c0c0" />
<rect x="1132" y="686" width="1" height="4" fill="#c0c0c0" />
<rect x="1136" y="686" width="1" height="4" fill="#c0c0c0" />
<rect x="1140" y="686" width="1" height="5" fill="#c0c0c0" />
<rect x="1144" y="686" width="1" height="5" fill="#c0c0c0" />
<rect x="1148" y="686" width="1" height="5" fill="#c0c0c0" />
<rect x="1152" y="686" width="1" height="5" fill="#c0c0c0" />
<rect x="1156" y="686" width="1" height="5" fill="#c0c0c0" />
<rect x="1160" y="686" width="1" height="5" fill="#c0c0c0" />
<rect x="1164" y="686" width="1" height="4" fill="#c0c0c0" />
<rect x="1168" y="686" width="1" height="4" fill="#c0c0c0" />
<rect x="1172" y="686" width="1" height="4" fill="#c0c0c0" />
<rect x="1176" y="686" width="1" height="4" fill="#c0c0c0" />
<rect x="1180" y="686" width="1" height="4" fill="#c0c0c0" />
<rect x="1184" y="686" width="1" height="4" fill="#c0c0c0" />
<rect x="1188" y="686" width="1" height="4" fill="#c0c0c0" />
<rect x="1192" y="686" width="1" height="4" fill="#c0c0c0" />
<rect x="1196" y="686" width="1" height="6" fill="#c0c0c0" />
<rect x="1200" y="686" width="1" height="7" fill="#c0c0c0" />
<rect x="1204" y="686" width="1" height="9" fill="#c0c0c0" />
<rect x="1208" y="686" width="1" height="9" fill="#c0c0c0" />
<rect x="1212" y="686" width="1" height="10" fill="#c0c0c0" />
<rect x="1216" y="686" width="1" height="10" fill="#c0c0c0" />
<rect x="1220" y="686" width="1" height="11" fill="#c0c0c0" />
<rect x="1224" y="686" width="1" height="11" fill="#c0c0c0" />
<rect x="1228" y="686" width="1" height="11" fill="#c0c0c0" />
<rect x="1232" y="686" width="1" height="11" fill="#c0c0c0" />
<rect x="1236" y="686" width="1" height="11" fill="#c0c0c0" />
<rect x="1240" y="686" width="1" height="10" fill="#c0c0c0" />
<rect x="1244" y="686" width="1" height="10" fill="#c0c0c0" />
<rect x="1248" y="686" width="1" height="12" fill="#c0c0c0" />
<rect x="1252" y="686" width="1" height="12" fill="#c0c0c0" />
<rect x="1256" y="686" width="1" height="11" fill="#c0c0c0" />
<rect x="1260" y="686" width="1" height="10" fill="#c0c0c0" />
<rect x="1264" y="686" width="1" height="10" fill="#c0c0c0" />
<rect x="1268" y="686" width="1" height="9" fill="#c0c0c0" />
<polyline points="0.5,682.22 4.5,682.22 8.5,682.05 12.5,681.92 16.5,681.80 20.5,681.70 24.5,681.47 28.5,681.13 32.5,680.80 36.5,680.49 40.5,680.34 44.5,680.11 48.5,679.89 52.5,679.69 56.5,679.43 60.5,679.35 64.5,679.42 68.5,679.55 72.5,679.67 76.5,679.84 80.5,680.09 84.5,680.28 88.5,680.45 92.5,680.62 96.5,680.89 100.5,681.23 104.5,681.71 108.5,682.33 112.5,683.10 116.5,683.98 120.5,684.88 124.5,685.78 128.5,686.58 132.5,687.14 136.5,687.56 140.5,687.74 144.5,687.69 148.5,687.43 152.5,687.00 156.5,686.52 160.5,686.04 164.5,685.67 168.5,685.39 172.5,685.13 176.5,684.93 180.5,684.85 184.5,684.82 188.5,684.87 192.5,684.87 196.5,684.78 200.5,684.61 204.5,684.43 208.5,684.24 212.5,683.97 216.5,683.66 220.5,683.39 224.5,683.28 228.5,683.44 232.5,683.74 236.5,684.20 240.5,684.79 244.5,685.53 248.5,686.43 252.5,687.45 256.5,688.50 260.5,689.45 264.5,690.29 268.5,691.14 272.5,691.96 276.5,692.74 280.5,693.38 284.5,693.87 288.5,694.06 292.5,694.05 296.5,693.84 300.5,693.50 304.5,693.04 308.5,692.44 312.5,691.72 316.5,690.91 320.5,690.01 324.5,689.19 328.5,688.39 332.5,687.60 336.5,686.81 340.5,685.99 344.5,685.25 348.5,684.58 352.5,684.00 356.5,683.55 360.5,683.11 364.5,682.70 368.5,682.32 372.5,681.98 376.5,681.67 380.5,681.36 384.5,681.09 388.5,680.81 392.5,680.56 396.5,680.45 400.5,680.38 404.5,680.38 408.5,680.54 412.5,680.94 416.5,681.34 420.5,681.74 424.5,682.20 428.5,682.66 432.5,683.16 436.5,683.75 440.5,684.38 444.5,684.97 448.5,685.50 452.5,686.08 456.5,686.75 460.5,687.43 464.5,688.04 468.5,688.57 472.5,688.98 476.5,689.33 480.5,689.58 484.5,689.79 488.5,690.02 492.5,690.22 496.5,690.44 500.5,690.89 504.5,691.46 508.5,692.16 512.5,692.90 516.5,693.69 520.5,694.44 524.5,695.04 528.5,695.45 532.5,695.60 536.5,695.46 540.5,695.13 544.5,694.64 548.5,694.02 552.5,693.37 556.5,692.63 560.5,691.92 564.5,691.25 568.5,690.73 572.5,690.24 576.5,689.70 580.5,689.09 584.5,688.46 588.5,687.79 592.5,687.03 596.5,686.22 600.5,685.35 604.5,684.40 608.5,683.43 612.5,682.51 616.5,681.64 620.5,680.77 624.5,679.90 628.5,679.11 632.5,678.37 636.5,677.72 640.5,677.16 644.5,676.72 648.5,676.44 652.5,676.34 656.5,676.41 660.5,676.64 664.5,677.02 668.5,677.50 672.5,678.05 676.5,678.72 680.5,679.43 684.5,680.13 688.5,680.73 692.5,681.21 696.5,681.56 700.5,681.69 704.5,681.57 708.5,681.27 712.5,680.84 716.5,680.38 720.5,679.78 724.5,679.16 728.5,678.52 732.5,677.92 736.5,677.28 740.5,676.32 744.5,675.12 748.5,673.53 752.5,671.38 756.5,669.04 760.5,666.50 764.5,663.52 768.5,659.67 772.5,655.46 776.5,651.58 780.5,647.86 784.5,644.32 788.5,641.26 792.5,638.72 796.5,637.16 800.5,636.67 804.5,637.78 808.5,639.64 812.5,641.98 816.5,644.64 820.5,647.85 824.5,651.34 828.5,654.73 832.5,657.62 836.5,660.36 840.5,662.69 844.5,665.08 848.5,667.47 852.5,669.97 856.5,672.36 860.5,674.77 864.5,676.85 868.5,678.57 872.5,679.90 876.5,681.01 880.5,681.79 884.5,682.06 888.5,682.07 892.5,681.99 896.5,681.67 900.5,681.44 904.5,681.47 908.5,681.60 912.5,681.89 916.5,682.40 920.5,683.00 924.5,683.58 928.5,683.96 932.5,684.40 936.5,684.71 940.5,685.07 944.5,685.49 948.5,685.81 952.5,685.89 956.5,686.08 960.5,686.19 964.5,686.26 968.5,686.21 972.5,686.23 976.5,686.24 980.5,686.30 984.5,686.38 988.5,686.56 992.5,686.67 996.5,686.90 1000.5,687.26 1004.5,687.95 1008.5,688.98 1012.5,690.06 1016.5,690.97 1020.5,691.83 1024.5,693.00 1028.5,694.63 1032.5,696.61 1036.5,698.75 1040.5,700.91 1044.5,702.98 1048.5,705.01 1052.5,706.96 1056.5,708.84 1060.5,710.09 1064.5,710.67 1068.5,710.65 1072.5,710.18 1076.5,709.32 1080.5,708.15 1084.5,706.66 1088.5,704.99 1092.5,703.14 1096.5,701.53 1100.5,700.21 1104.5,699.03 1108.5,697.89 1112.5,696.63 1116.5,695.40 1120.5,694.17 1124.5,693.08 1128.5,692.21 1132.5,691.36 1136.5,690.55 1140.5,689.93 1144.5,689.58 1148.5,689.44 1152.5,689.46 1156.5,689.61 1160.5,689.71 1164.5,689.73 1168.5,689.73 1172.5,689.63 1176.5,689.57 1180.5,689.47 1184.5,689.38 1188.5,689.20 1192.5,689.10 1196.5,689.22 1200.5,689.55 1204.5,690.10 1208.5,690.75 1212.5,691.35 1216.5,692.01 1220.5,692.79 1224.5,693.65 1228.5,694.37 1232.5,694.93 1236.5,695.32 1240.5,695.43 1244.5,695.52 1248.5,695.75 1252.5,695.96 1256.5,695.95 1260.5,695.81 1264.5,695.74 1268.5,695.61" fill="none" stroke="#ff0000" stroke-width="1" stroke-dasharray="3,3"/>
</g></svg>
<rect x="3.5" y="626.5" width="1593" height="92" fill="none" stroke="#000" stroke-width="1"/>
<text x="8.3" y="639.2" font-size="10" fill="#000" stroke="#000" stroke-width="0.12" textLength="154.50" lengthAdjust="spacingAndGlyphs" >MACD(12,26,9) -0.004925 -0.005548</text>
<rect x="1597" y="686" width="1" height="1" fill="#000" />
<rect x="1597" y="628" width="1" height="1" fill="#000" />
<rect x="1597" y="717" width="1" height="1" fill="#000" />
<text x="1600" y="637" font-size="10" fill="#000" stroke="#000" stroke-width="0.12" textLength="38.00" lengthAdjust="spacingAndGlyphs" >0.032972</text>
<text x="1600" y="690" font-size="10" fill="#000" stroke="#000" stroke-width="0.12" textLength="18.00" lengthAdjust="spacingAndGlyphs" >0.00</text>
<text x="1600" y="715" font-size="10" fill="#000" stroke="#000" stroke-width="0.12" textLength="40.00" lengthAdjust="spacingAndGlyphs" >-0.018154</text>
<rect x="4" y="719" width="1" height="3" fill="#000" />
<text x="3.2" y="731.3" font-size="10" fill="#000" stroke="#000" stroke-width="0.12" textLength="46.81" lengthAdjust="spacingAndGlyphs" >8 Aug 2019</text>
<rect x="68" y="719" width="1" height="3" fill="#000" />
<text x="67.2" y="731.3" font-size="10" fill="#000" stroke="#000" stroke-width="0.12" textLength="51.95" lengthAdjust="spacingAndGlyphs" >27 Aug 2019</text>
<rect x="132" y="719" width="1" height="3" fill="#000" />
<text x="131.2" y="731.3" font-size="10" fill="#000" stroke="#000" stroke-width="0.12" textLength="52.46" lengthAdjust="spacingAndGlyphs" >14 Sep 2019</text>
<rect x="196" y="719" width="1" height="3" fill="#000" />
<text x="195.2" y="731.3" font-size="10" fill="#000" stroke="#000" stroke-width="0.12" textLength="45.25" lengthAdjust="spacingAndGlyphs" >3 Oct 2019</text>
<rect x="260" y="719" width="1" height="3" fill="#000" />
<text x="259.2" y="731.3" font-size="10" fill="#000" stroke="#000" stroke-width="0.12" textLength="50.39" lengthAdjust="spacingAndGlyphs" >22 Oct 2019</text>
<rect x="324" y="719" width="1" height="3" fill="#000" />
<text x="323.2" y="731.3" font-size="10" fill="#000" stroke="#000" stroke-width="0.12" textLength="47.31" lengthAdjust="spacingAndGlyphs" >9 Nov 2019</text>
<rect x="388" y="719" width="1" height="3" fill="#000" />
<text x="387.2" y="731.3" font-size="10" fill="#000" stroke="#000" stroke-width="0.12" textLength="52.45" lengthAdjust="spacingAndGlyphs" >28 Nov 2019</text>
<rect x="452" y="719" width="1" height="3" fill="#000" />
<text x="451.2" y="731.3" font-size="10" fill="#000" stroke="#000" stroke-width="0.12" textLength="52.45" lengthAdjust="spacingAndGlyphs" >17 Dec 2019</text>
<rect x="516" y="719" width="1" height="3" fill="#000" />
<text x="515.2" y="731.3" font-size="10" fill="#000" stroke="#000" stroke-width="0.12" textLength="45.77" lengthAdjust="spacingAndGlyphs" >4 Jan 2020</text>
<rect x="580" y="719" width="1" height="3" fill="#000" />
<text x="579.2" y="731.3" font-size="10" fill="#000" stroke="#000" stroke-width="0.12" textLength="50.92" lengthAdjust="spacingAndGlyphs" >23 Jan 2020</text>
<rect x="644" y="719" width="1" height="3" fill="#000" />
<text x="643.2" y="731.3" font-size="10" fill="#000" stroke="#000" stroke-width="0.12" textLength="51.25" lengthAdjust="spacingAndGlyphs" >11 Feb 2020</text>
<rect x="708" y="719" width="1" height="3" fill="#000" />
<text x="707.2" y="731.3" font-size="10" fill="#000" stroke="#000" stroke-width="0.12" textLength="51.94" lengthAdjust="spacingAndGlyphs" >29 Feb 2020</text>
<rect x="772" y="719" width="1" height="3" fill="#000" />
<text x="771.2" y="731.3" font-size="10" fill="#000" stroke="#000" stroke-width="0.12" textLength="51.93" lengthAdjust="spacingAndGlyphs" >19 Mar 2020</text>
<rect x="836" y="719" width="1" height="3" fill="#000" />
<text x="835.2" y="731.3" font-size="10" fill="#000" stroke="#000" stroke-width="0.12" textLength="44.74" lengthAdjust="spacingAndGlyphs" >7 Apr 2020</text>
<rect x="900" y="719" width="1" height="3" fill="#000" />
<text x="899.2" y="731.3" font-size="10" fill="#000" stroke="#000" stroke-width="0.12" textLength="49.89" lengthAdjust="spacingAndGlyphs" >25 Apr 2020</text>
<rect x="964" y="719" width="1" height="3" fill="#000" />
<text x="963.2" y="731.3" font-size="10" fill="#000" stroke="#000" stroke-width="0.12" textLength="53.48" lengthAdjust="spacingAndGlyphs" >14 May 2020</text>
<rect x="1028" y="719" width="1" height="3" fill="#000" />
<text x="1027.2" y="731.3" font-size="10" fill="#000" stroke="#000" stroke-width="0.12" textLength="45.77" lengthAdjust="spacingAndGlyphs" >2 Jun 2020</text>
<rect x="1092" y="719" width="1" height="3" fill="#000" />
<text x="1091.2" y="731.3" font-size="10" fill="#000" stroke="#000" stroke-width="0.12" textLength="50.92" lengthAdjust="spacingAndGlyphs" >20 Jun 2020</text>
<rect x="1156" y="719" width="1" height="3" fill="#000" />
<text x="1155.2" y="731.3" font-size="10" fill="#000" stroke="#000" stroke-width="0.12" textLength="42.68" lengthAdjust="spacingAndGlyphs" >9 Jul 2020</text>
<rect x="1220" y="719" width="1" height="3" fill="#000" />
<text x="1219.2" y="731.3" font-size="10" fill="#000" stroke="#000" stroke-width="0.12" textLength="47.83" lengthAdjust="spacingAndGlyphs" >28 Jul 2020</text>
<rect x="0" y="739" width="1639" height="1" fill="#e3e3e3" />
<rect x="0" y="740" width="1639" height="1" fill="#ffffff" />
<rect x="0" y="741" width="1639" height="1" fill="#000000" />
<rect x="0" y="742" width="1639" height="19" fill="#efefef" />
<rect x="0" y="761" width="1639" height="1" fill="#fafafa" />
<rect x="0" y="762" width="1639" height="3" fill="#f0f0f0" />
<rect x="0" y="741" width="1" height="20" fill="#404040" />
<rect x="313" y="741" width="104" height="19" fill="#ffffff" />
<rect x="313" y="741" width="1" height="19" fill="#000" />
<rect x="416" y="741" width="1" height="19" fill="#000" />
<rect x="313" y="759" width="104" height="1" fill="#000" />
<text x="17.0" y="756" font-size="12" fill="#6e6e6e" >EURUSD,Daily</text>
<text x="119.0" y="756" font-size="12" fill="#6e6e6e" >USDCHF,Daily</text>
<text x="219.5" y="756" font-size="12" fill="#6e6e6e" >AUDUSD,Daily</text>
<text x="426.5" y="756" font-size="12" fill="#6e6e6e" >USDCNH,Daily</text>
<text x="531.5" y="756" font-size="12" fill="#6e6e6e" >EURUSD,M15</text>
<text x="631.5" y="756" font-size="12" fill="#6e6e6e" >GBPUSD,M30</text>
<text x="732.0" y="756" font-size="12" fill="#6e6e6e" >XAUUSD,M5</text>
<text x="827.5" y="756" font-size="12" fill="#6e6e6e" >HK50,H1</text>
<text x="899.5" y="756" font-size="12" fill="#6e6e6e" >UK100,H1</text>
<text x="979.5" y="756" font-size="12" fill="#6e6e6e" >UK100,H1</text>
<text x="1059.5" y="756" font-size="12" fill="#6e6e6e" >GER30,H1</text>
<text x="1138.5" y="756" font-size="12" fill="#6e6e6e" >FRA40,H1</text>
<text x="1215.5" y="756" font-size="12" fill="#6e6e6e" >USOil,Daily</text>
<text x="1298.5" y="756" font-size="12" fill="#6e6e6e" >USDJPY,H1</text>
<text x="1383.5" y="756" font-size="12" fill="#6e6e6e" >DJ30,M15</text>
<text x="1462.5" y="756" font-size="12" fill="#6e6e6e" >CHINA300,H4</text>
<text x="323.5" y="756" font-size="12" fill="#000" >USDCAD,Daily</text>
<rect x="109" y="744" width="1" height="14" fill="#6d6d6d" />
<rect x="209" y="744" width="1" height="14" fill="#6d6d6d" />
<rect x="521" y="744" width="1" height="14" fill="#6d6d6d" />
<rect x="621" y="744" width="1" height="14" fill="#6d6d6d" />
<rect x="721" y="744" width="1" height="14" fill="#6d6d6d" />
<rect x="816" y="744" width="1" height="14" fill="#6d6d6d" />
<rect x="889" y="744" width="1" height="14" fill="#6d6d6d" />
<rect x="969" y="744" width="1" height="14" fill="#6d6d6d" />
<rect x="1049" y="744" width="1" height="14" fill="#6d6d6d" />
<rect x="1129" y="744" width="1" height="14" fill="#6d6d6d" />
<rect x="1205" y="744" width="1" height="14" fill="#6d6d6d" />
<rect x="1290" y="744" width="1" height="14" fill="#6d6d6d" />
<rect x="1373" y="744" width="1" height="14" fill="#6d6d6d" />
<rect x="1453" y="744" width="1" height="14" fill="#6d6d6d" />
<rect x="1553" y="744" width="1" height="14" fill="#6d6d6d" />
<svg x="1560" y="741" width="46" height="19" overflow="hidden"><text x="3" y="15" font-size="12" fill="#6e6e6e">USOil,H1</text></svg>
<rect x="1606" y="742" width="33" height="19" fill="#efefef" />
<path d="M1612 750 L1615.2 746.8 L1615.2 753.2 Z" fill="#a0a0a0"/>
<path d="M1634.5 750 L1631 746.5 L1631 753.5 Z" fill="#000"/>
</svg>
</body></html>
